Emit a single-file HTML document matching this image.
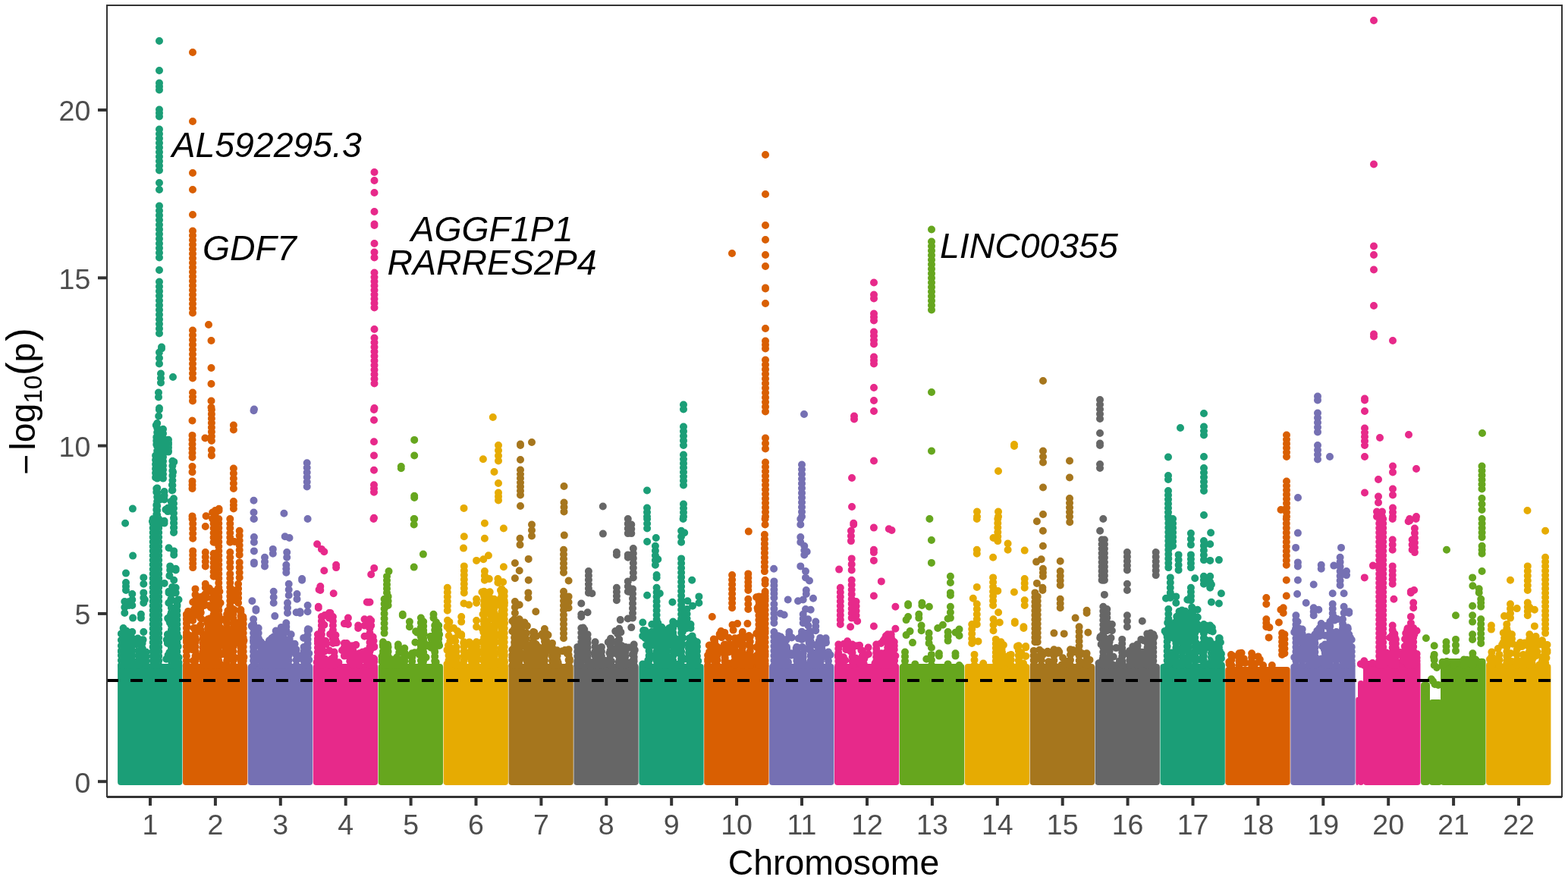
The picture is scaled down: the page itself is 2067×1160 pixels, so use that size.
<!DOCTYPE html><html><head><meta charset="utf-8"><title>Manhattan plot</title><style>html,body{margin:0;padding:0;background:#fff;}svg{display:block;}text{font-family:"Liberation Sans",Arial,sans-serif;}</style></head><body><svg width="2067" height="1160" viewBox="0 0 2067 1160"><rect width="2067" height="1160" fill="#fff"/><g fill="#1B9E77" stroke="#1B9E77"><rect x="155.1" y="875" width="85.3" height="160" rx="4" stroke="none"/><path fill="none" stroke-width="10" stroke-linecap="round" d="M210 54v0M210 93v0M210 109.5v0M210 114v0M210 118.5v0M210 144.5v0M210 149v0M210 153.5v0M210 170.5v0M210 176.5v0M210 182.5v0M210 188.5v0M210 194.5v0M210 200.5v0M210 206.5v0M210 212.5v0M210 218.5v0M210 224.5v0M210 241v0M210 250v0M210 271.5v0M210 277.7v0M210 283.9v0M210 290v0M210 296.2v0M210 302.4v0M210 308.6v0M210 314.8v0M210 321v0M210 327.1v0M210 333.3v0M210 339.5v0M210 356v0M210 371.5v0M210 377.7v0M210 383.9v0M210 390v0M210 396.2v0M210 402.4v0M210 408.6v0M210 414.8v0M210 421v0M210 427.1v0M210 433.3v0M210 439.5v0M213 457.5v0M213 459.5v0M210 464.5v0M210 472v0M210 479.5v0M212 492.5v0M212 498.5v0M212 504.5v0M228 497v0M209 517.5v0M209 523.5v0M210 538v0M165.1 689.8v0M175.1 732.6v0M201.7 684v0M201.7 690v0M201.7 696.1v0M201.7 702.1v0M201.7 708.1v0M201.7 714.2v0M201.7 720.2v0M201.7 726.2v0M201.7 732.2v0M201.7 738.3v0M201.7 744.3v0M201.7 750.3v0M201.7 756.4v0M201.7 762.4v0M201.7 768.4v0M201.7 774.5v0M201.7 780.5v0M201.7 786.5v0M201.7 792.6v0M201.7 798.6v0M201.7 804.6v0M201.7 810.7v0M201.7 816.7v0M201.7 822.7v0M201.7 828.8v0M201.7 834.8v0M201.7 840.8v0M201.7 846.8v0M201.7 852.9v0M201.7 858.9v0M201.7 864.9v0M201.7 871v0M201.7 877v0M209.2 684v0M209.2 690v0M209.2 696.1v0M209.2 702.1v0M209.2 708.1v0M209.2 714.2v0M209.2 720.2v0M209.2 726.2v0M209.2 732.2v0M209.2 738.3v0M209.2 744.3v0M209.2 750.3v0M209.2 756.4v0M209.2 762.4v0M209.2 768.4v0M209.2 774.5v0M209.2 780.5v0M209.2 786.5v0M209.2 792.6v0M209.2 798.6v0M209.2 804.6v0M209.2 810.7v0M209.2 816.7v0M209.2 822.7v0M209.2 828.8v0M209.2 834.8v0M209.2 840.8v0M209.2 846.8v0M209.2 852.9v0M209.2 858.9v0M209.2 864.9v0M209.2 871v0M209.2 877v0M214.2 689v0M200.9 687.3v0M229.2 684v0M229.2 689.8v0M229.2 695.6v0M229.2 701.5v0M222.5 722.3v0M229.2 726.4v0M229.2 731.4v0M224.2 746.4v0M224.2 751.4v0M231.7 749.7v0M231.7 751.4v0M223.4 758.9v0M229.2 764.7v0M222.5 779.7v0M222.5 781.4v0M231.7 774.7v0M231.7 781.4v0M216.7 768.9v0M225.9 801.3v0M225.9 807.2v0M225.9 813v0M225.9 818.8v0M225.9 824.6v0M225.9 830.4v0M225.9 836.3v0M225.9 842.1v0M225.9 847.9v0M225.9 853.7v0M225.9 859.5v0M225.9 865.4v0M225.9 871.2v0M225.9 877v0M233.4 793v0M233.4 799v0M233.4 805v0M233.4 811v0M233.4 817v0M233.4 823v0M233.4 829v0M233.4 835v0M233.4 841v0M233.4 847v0M233.4 853v0M233.4 859v0M233.4 865v0M233.4 871v0M233.4 877v0M220.9 836.3v0M220.9 842.1v0M220.9 847.9v0M166 755.6v0M166 768v0M166 773v0M166 778v0M164.3 793v0M164.3 800.5v0M164.3 808v0M174.3 783v0M174.3 790.5v0M174.3 798v0M170.1 793v0M170.1 798v0M189.3 761.4v0M189.3 769.7v0M189.3 781.4v0M189.3 788v0M189.3 794.7v0M190.9 790.5v0M175.1 814.6v0M185.9 809.7v0M185.9 814.6v0M162.6 828v0M162.6 834.1v0M162.6 840.2v0M162.6 846.4v0M162.6 852.5v0M162.6 858.6v0M162.6 864.7v0M162.6 870.9v0M162.6 877v0M159.9 851.3v0M159.9 857.7v0M159.9 864.1v0M159.9 870.6v0M159.9 877v0M174.3 833v0M174.3 841.3v0M174.3 851.3v0M174.3 857.7v0M174.3 864.1v0M174.3 870.6v0M174.3 877v0M189.3 833v0M187.6 846.3v0M187.6 847.9v0M182.6 857.9v0M182.6 864.3v0M182.6 870.6v0M182.6 877v0M192.6 859.6v0M192.6 865.4v0M192.6 871.2v0M192.6 877v0M169.3 836.3v0M169.3 842.1v0M169.3 847.9v0M169.3 853.7v0M169.3 859.5v0M169.3 865.4v0M169.3 871.2v0M169.3 877v0M209.9 540v0M209.2 548.5v0M205.8 560.6v0M213.6 566.7v0M213.6 568.9v0M206.3 576.4v0M206.3 581.1v0M206.3 585.9v0M205.1 600.6v0M205.1 606.3v0M205.1 612.1v0M205.1 617.9v0M205.1 623.6v0M205.1 629.4v0M211.1 615.1v0M211.1 617.3v0M206.3 644.1v0M206.3 648.8v0M211.1 656.2v0M211.1 658.4v0M206.3 665.9v0M206.3 671.9v0M206.3 678v0M206.3 684v0M222 583.6v0M222 585.9v0M222 594.5v0M222 595.6v0M229.3 608.9v0M228.1 622.2v0M226.9 639.3v0M226.9 646.4v0M225.7 661v0M225.7 667v0M225.7 673v0M218.4 671.8v0M174.9 670.6v0M207.2 558v0M207.2 564.1v0M207.2 570.1v0M207.2 576.2v0M207.2 582.2v0M207.2 588.3v0M207.2 594.3v0M207.2 600.4v0M207.2 606.4v0M207.2 612.5v0M207.2 618.5v0M207.2 624.6v0M207.2 630.6v0M207.2 643.4v0M207.2 649.3v0M207.2 655.2v0M207.2 661v0M207.2 666.9v0M207.2 672.8v0M207.2 678.7v0M207.2 684.6v0M207.2 690.5v0M207.2 696.4v0M207.2 702.3v0M207.2 708.2v0M207.2 714.1v0M207.2 720v0M215 565.8v0M215 571.5v0M215 577.2v0M215 583v0M215 588.7v0M215 596.8v0M215 602.4v0M215 608.1v0M215 613.7v0M215 619.3v0M215 625v0M215 630.6v0M216.6 648v0M216.6 653.3v0M216.6 658.5v0M222 579.7v0M222 584.8v0M222 589.9v0M222 594.9v0M227.4 607.7v0M227.4 614.1v0M227.4 620.5v0M227.4 626.9v0M227.4 633.3v0M227.4 639.7v0M227.4 646.1v0M229 657.3v0M229 663.7v0M229 670.1v0M229 676.5v0M229 682.8v0M229 689.2v0M229 695.6v0M229 702v0M221.2 669.7v0M221.2 674.1v0M216.6 686.8v0M216.6 689.6v0M167 869.9v0M187.9 855.1v0M166.6 843.3v0M178.6 849.2v0M186.4 850.1v0M167.2 851.6v0M169.6 855v0M188.6 843.2v0M173.6 840.6v0M189.3 866.1v0M167.1 843.4v0M166.9 857.3v0M181.7 841.5v0M163.5 859.6v0M180.1 876.3v0M159.9 835.4v0M184.8 868v0M163.8 861.3v0M170.4 842.4v0M159.9 859v0M186.6 851.9v0M184.1 872.6v0M164.6 837v0M159.9 843.7v0M166.8 831.7v0M168.7 869.4v0M185 870.5v0M189.5 859.6v0M166.8 874.9v0M164 840.9v0M235.5 873.2v0M226.2 851.9v0M222.5 862.6v0M221.3 836.9v0M219.7 843.3v0M235.5 790.5v0M221.6 863.5v0M224 820.9v0M231.8 867.3v0M223.2 818.2v0M234.7 852.3v0M225.2 822.5v0M225 810.4v0M235.5 840.2v0M221.2 815.1v0M234.1 791.3v0M227.1 773.9v0M228.7 817.7v0M233.5 797.8v0M227.7 813.7v0M225.4 789.8v0M222.3 794.7v0M223.4 860.1v0M228.6 781.8v0M234 841.1v0M228.7 807.8v0M232.4 815.4v0M235.5 866.6v0M235.5 876.9v0M225.1 792.2v0M229.2 851.6v0M226.5 835.1v0M219.2 868.8v0M226.9 809.3v0"/></g><g fill="#D95F02" stroke="#D95F02"><rect x="241" y="875" width="85.3" height="160" rx="4" stroke="none"/><path fill="none" stroke-width="10" stroke-linecap="round" d="M254 69v0M254 160v0M254 228v0M254 250v0M254 283v0M254 304.5v0M254 310.5v0M254 316.5v0M254 322.5v0M254 328.5v0M254 334.5v0M254 340.5v0M254 346.5v0M254 352.5v0M254 358.5v0M254 364.5v0M254 370.5v0M254 376.5v0M254 382.5v0M254 388.5v0M254 394.5v0M254 400.5v0M254 406.5v0M254 412.5v0M254 435.5v0M254 441.8v0M254 448.1v0M254 454.4v0M254 460.7v0M254 467v0M254 473.3v0M254 479.6v0M254 485.9v0M254 492.2v0M254 498.5v0M254 517.5v0M254 523v0M254 528.5v0M275 428v0M278.5 449v0M278.5 485v0M278.5 506v0M278.5 528.5v0M278.5 537v0M254.2 684v0M254.2 690.4v0M254.2 696.9v0M254.2 703.3v0M254.2 709.8v0M254.2 726.4v0M254.2 731.8v0M254.2 737.3v0M254.2 742.7v0M254.2 748.1v0M270.8 694v0M270.8 728.1v0M270.8 734.2v0M270.8 740.3v0M270.8 746.4v0M270.8 769.7v0M270.8 774.7v0M288.3 684v0M288.3 690v0M288.3 696.1v0M288.3 702.1v0M288.3 708.1v0M288.3 714.2v0M288.3 720.2v0M288.3 726.2v0M288.3 732.2v0M288.3 738.3v0M288.3 744.3v0M288.3 750.3v0M288.3 756.4v0M288.3 762.4v0M288.3 768.4v0M288.3 774.5v0M288.3 780.5v0M288.3 786.5v0M288.3 792.6v0M288.3 798.6v0M288.3 804.6v0M288.3 810.7v0M288.3 816.7v0M288.3 822.7v0M288.3 828.8v0M288.3 834.8v0M288.3 840.8v0M288.3 846.8v0M288.3 852.9v0M288.3 858.9v0M288.3 864.9v0M288.3 871v0M288.3 877v0M281.6 684v0M281.6 690.2v0M281.6 696.3v0M281.6 702.5v0M281.6 708.6v0M281.6 714.8v0M281.6 729.8v0M281.6 735.8v0M281.6 741.8v0M281.6 747.7v0M281.6 753.7v0M281.6 759.7v0M281.6 779.7v0M281.6 785.8v0M281.6 791.9v0M281.6 797.9v0M281.6 804v0M281.6 810.1v0M281.6 816.2v0M281.6 822.3v0M281.6 828.3v0M281.6 834.4v0M281.6 840.5v0M281.6 846.6v0M281.6 852.7v0M281.6 858.8v0M281.6 864.8v0M281.6 870.9v0M281.6 877v0M303.3 684v0M303.3 690.2v0M303.3 696.3v0M303.3 702.5v0M303.3 708.6v0M303.3 714.8v0M303.3 728.1v0M303.3 734.8v0M303.3 741.4v0M303.3 748.1v0M303.3 756.4v0M303.3 762.3v0M303.3 768.3v0M303.3 774.2v0M303.3 780.2v0M303.3 786.1v0M303.3 792.1v0M303.3 798v0M315.7 699.8v0M315.7 706.1v0M315.7 712.5v0M315.7 718.8v0M315.7 725.1v0M315.7 731.4v0M315.7 741.4v0M315.7 748.1v0M315.7 754.7v0M315.7 761.4v0M314.1 769.7v0M314.1 776v0M314.1 782.2v0M314.1 788.4v0M314.1 794.7v0M317.4 806.3v0M317.4 812.2v0M317.4 818.1v0M317.4 824v0M317.4 829.9v0M317.4 835.8v0M317.4 841.7v0M317.4 847.6v0M317.4 853.4v0M317.4 859.3v0M317.4 865.2v0M317.4 871.1v0M317.4 877v0M309.1 714v0M307.4 778v0M307.4 784.7v0M307.4 791.3v0M257.5 776.4v0M257.5 783.9v0M257.5 791.3v0M254.2 793.8v0M269.1 784.7v0M269.1 788v0M264.2 796.3v0M264.2 798v0M245.9 809.7v0M245.9 815.8v0M245.9 821.9v0M245.9 828v0M245.9 834.1v0M245.9 840.3v0M245.9 846.4v0M245.9 852.5v0M245.9 858.6v0M245.9 864.8v0M245.9 870.9v0M245.9 877v0M254.2 813v0M254.2 818v0M257.5 828v0M257.5 834.1v0M257.5 840.2v0M257.5 846.4v0M257.5 852.5v0M257.5 858.6v0M257.5 864.7v0M257.5 870.9v0M257.5 877v0M264.2 803v0M264.2 808.8v0M264.2 814.6v0M267.5 836.3v0M267.5 842.1v0M267.5 847.9v0M267.5 853.7v0M267.5 859.5v0M267.5 865.4v0M267.5 871.2v0M267.5 877v0M274.1 816.3v0M274.1 822.4v0M274.1 828.4v0M274.1 834.5v0M274.1 840.6v0M274.1 846.7v0M274.1 852.7v0M274.1 858.8v0M274.1 864.9v0M274.1 870.9v0M274.1 877v0M299.1 809.7v0M299.1 815.8v0M299.1 821.9v0M299.1 828v0M299.1 834.1v0M299.1 840.3v0M299.1 846.4v0M299.1 852.5v0M299.1 858.6v0M299.1 864.8v0M299.1 870.9v0M299.1 877v0M307.4 803v0M307.4 809.2v0M307.4 815.3v0M307.4 821.5v0M307.4 827.7v0M307.4 833.8v0M307.4 840v0M307.4 846.2v0M307.4 852.3v0M307.4 858.5v0M307.4 864.7v0M307.4 870.8v0M307.4 877v0M320.7 816.3v0M320.7 822.4v0M320.7 828.4v0M320.7 834.5v0M320.7 840.6v0M320.7 846.7v0M320.7 852.7v0M320.7 858.8v0M320.7 864.9v0M320.7 870.9v0M320.7 877v0M292.4 841.3v0M292.4 847.9v0M253.5 554.5v0M253.5 573.9v0M253.5 579.7v0M253.5 585.5v0M253.5 591.3v0M253.5 597v0M253.5 602.8v0M253.5 615.1v0M253.5 622.2v0M253.5 634.4v0M253.5 639.2v0M253.5 643.9v0M253.5 680.4v0M253.5 684v0M278.9 540v0M278.9 545.9v0M278.9 551.7v0M278.9 557.6v0M278.9 563.5v0M278.9 569.3v0M278.9 575.2v0M278.9 581v0M270.4 577.5v0M278.9 593.3v0M278.9 600.4v0M307.9 560.6v0M307.9 566.5v0M307.9 617.5v0M307.9 624.1v0M307.9 630.7v0M307.9 637.3v0M307.9 643.9v0M307.9 661v0M307.9 665.8v0M307.9 670.5v0M271.6 680.3v0M283.7 673.1v0M283.7 678.6v0M283.7 684v0M288.6 670.7v0M288.6 673v0M280.1 675.5v0M280.1 684v0M321.4 844.5v0M292.4 862.2v0M264.4 830.4v0M249.7 841.6v0M306.6 865.1v0M261.5 807.1v0M321.4 866.1v0M306.8 831.7v0M280.5 790v0M300.3 846.4v0M245.9 837.4v0M287.4 775.8v0M289.4 819v0M321.4 866.4v0M297.6 855.2v0M265.4 815.8v0M252.6 807.3v0M245.9 876.2v0M304.1 857.4v0M317.8 864.6v0M275.9 775.5v0M272.7 776v0M253.6 855v0M276.2 815.5v0M283.2 847.7v0M273.1 820.4v0M272.5 787.8v0M270.4 783.2v0M273.9 876.5v0M277.8 800.6v0M292.9 835.1v0M272.7 862v0M315.9 847.6v0M289.4 779.7v0M317.4 820.8v0M245.9 844v0M274.2 838v0M293.9 838.1v0M295.8 860.9v0M245.9 838.1v0M286.3 862.3v0M264.8 864.5v0M245.9 811.1v0M258.1 844v0M255.6 827.9v0M280.5 858.1v0M269.7 796.2v0M306.4 813.1v0M264.2 824.2v0M248.1 805.9v0M288.9 817.2v0M316.7 844v0M275.7 798.3v0M276.6 779.2v0M246.5 826.6v0M272.8 876.1v0M268.6 867.6v0M269.9 836v0M315.6 866.7v0M320.4 813v0M318 865.3v0M282.3 841.8v0M250.7 852v0M255 870.9v0M290.5 875.8v0M261 832.1v0M309 804v0M293.2 862.1v0M264.8 807.5v0M304.7 857.6v0M249.6 837.7v0M290.6 794.8v0M253.7 845.1v0M284.7 826.7v0M256 803.1v0M258 810.9v0M298.4 861.3v0M269.7 798v0M298.5 819.2v0M291.3 850.4v0M288 788v0M304.9 840.2v0M265.2 786.7v0M304.6 836.9v0M310.6 830v0M292.3 816.5v0M252.6 855.9v0M320 846.5v0M288.4 787v0M262.7 793.5v0M250.1 838.1v0M271.8 839.2v0M290.9 827.8v0M245.9 816.5v0M286.9 807.5v0M279 841.6v0M310.7 839.1v0M311.9 840.6v0M278.8 875.7v0M300.4 805.1v0M317.4 803.7v0M281.6 781.6v0M279 853v0M300.5 864.3v0M261.3 865.1v0M275.4 820.7v0M316.9 849.8v0M264.6 832.7v0M311.8 821v0M298 859.9v0M321.4 844.1v0M275.2 834.1v0M276.1 842.4v0M284.6 844.6v0M257.1 795.6v0"/></g><g fill="#7570B3" stroke="#7570B3"><rect x="326.9" y="875" width="85.3" height="160" rx="4" stroke="none"/><path fill="none" stroke-width="10" stroke-linecap="round" d="M335 539.5v0M334.9 684v0M334.9 708.1v0M334.9 714.8v0M334.9 726.4v0M334.9 741.4v0M334.9 743.1v0M349 734.8v0M349 740.6v0M349 746.4v0M359.8 723.9v0M359.8 729.8v0M375.7 707.3v0M381.5 709v0M378.2 728.1v0M378.2 734.8v0M377.3 744.7v0M377.3 749.7v0M377.3 754.7v0M380.7 769.7v0M380.7 777.2v0M380.7 784.7v0M379 794.7v0M379 801.3v0M379 808v0M398.1 763.1v0M398.1 764.7v0M391.5 783v0M391.5 789.7v0M360.7 779.7v0M360.7 787.2v0M360.7 794.7v0M405.6 684v0M332.4 792.2v0M337.4 803v0M337.4 804.7v0M395.6 806.3v0M395.6 808v0M405.6 798v0M405.6 806.3v0M390.6 807.2v0M362.3 812.1v0M334.1 816.3v0M334.1 822.4v0M334.1 828.4v0M334.1 834.5v0M334.1 840.6v0M334.1 846.7v0M334.1 852.7v0M334.1 858.8v0M334.1 864.9v0M334.1 870.9v0M334.1 877v0M340.7 828v0M340.7 834.6v0M340.7 841.3v0M340.7 847.9v0M377.3 821.3v0M377.3 826.3v0M377.3 831.3v0M374 836.3v0M374 842.1v0M374 847.9v0M374 853.7v0M374 859.5v0M374 865.4v0M374 871.2v0M374 877v0M380.7 844.6v0M380.7 851.1v0M380.7 857.6v0M380.7 864v0M380.7 870.5v0M380.7 877v0M360.7 839.6v0M360.7 845.8v0M360.7 852.1v0M360.7 858.3v0M360.7 864.5v0M360.7 870.8v0M360.7 877v0M405.6 831.3v0M405.6 837v0M405.6 842.7v0M405.6 848.4v0M405.6 854.1v0M405.6 859.9v0M405.6 865.6v0M405.6 871.3v0M405.6 877v0M400.6 852.9v0M400.6 858.9v0M400.6 865v0M400.6 871v0M400.6 877v0M350.7 849.6v0M350.7 855.1v0M350.7 860.6v0M350.7 866v0M350.7 871.5v0M350.7 877v0M344 846.3v0M344 852.4v0M344 858.6v0M344 864.7v0M344 870.9v0M344 877v0M367.3 846.3v0M367.3 852.4v0M367.3 858.6v0M367.3 864.7v0M367.3 870.9v0M367.3 877v0M390.6 856.3v0M390.6 863.2v0M390.6 870.1v0M390.6 877v0M334.5 541.2v0M334.5 659.7v0M334.5 675.5v0M334.5 684v0M404.7 610.2v0M404.7 616.5v0M404.7 622.7v0M404.7 629v0M404.7 635.3v0M404.7 641.5v0M374.4 676.7v0M356.8 844.6v0M363.7 831.6v0M388.6 848.7v0M396.3 865.8v0M369.9 835.8v0M331.8 825.6v0M379.5 844.2v0M375.8 826v0M400.2 840.9v0M335.1 874.6v0M354.3 874.5v0M339.7 844.9v0M348.3 861.7v0M358.2 841.2v0M366.6 859.9v0M355.1 865.6v0M357.7 845.2v0M367.9 840v0M334.9 827.3v0M393 864.1v0M391.8 869.2v0M356.6 849.4v0M402.2 876.5v0M369.8 872.2v0M354.1 856.6v0M338.8 865.8v0M404.9 865.1v0M345.5 860.7v0M381.8 861.3v0M407.2 869.9v0M334.2 842.2v0M342.6 860.2v0M339.9 839.8v0M341.5 843v0M353.8 849.9v0M383.7 836.3v0M338.6 832.6v0M339.3 828.6v0M354.7 858.8v0M375.9 843.3v0M407.3 861.2v0M405.9 829.3v0M366.4 864v0M407.3 829.9v0M337.9 836.2v0M331.8 824.7v0M365.6 874.2v0M390.4 856v0M392 866.7v0M372.9 866v0M404.8 873.1v0M338.8 850.9v0M364.1 850.9v0M370.8 826.9v0M334 844.8v0M354 854.9v0M362.7 851.3v0M351.8 864.6v0M334.4 854.5v0M389.5 858.3v0M384.7 856.5v0M381.7 842.5v0M374.8 857.3v0M370 847.3v0M354.6 876.1v0M355 844.2v0"/></g><g fill="#E7298A" stroke="#E7298A"><rect x="412.8" y="875" width="85.3" height="160" rx="4" stroke="none"/><path fill="none" stroke-width="10" stroke-linecap="round" d="M493.5 227v0M493.5 238v0M493.5 254v0M493.5 279v0M493.5 295.5v0M493.5 297v0M493.5 321v0M493.5 332.5v0M493.5 339.5v0M493.5 359.5v0M493.5 365.2v0M493.5 371v0M493.5 376.8v0M493.5 382.5v0M493.5 388.2v0M493.5 394v0M493.5 399.8v0M493.5 405.5v0M493.5 434v0M493.5 445.5v0M493.5 451.5v0M493.5 457.5v0M493.5 463.5v0M493.5 469.5v0M493.5 475.5v0M493.5 481.5v0M493.5 487.5v0M493.5 493.5v0M493.5 499.5v0M493.5 505.5v0M493.5 538v0M418.1 717.3v0M423.9 723.9v0M427.3 727.3v0M427.3 752.2v0M443.1 744.7v0M443.1 748.1v0M422.3 773v0M422.3 778v0M420.6 777.2v0M439.7 782.2v0M419.8 799.7v0M419.8 801.3v0M483.8 793.8v0M423.9 813v0M423.9 818.8v0M423.9 824.6v0M423.9 830.4v0M423.9 836.3v0M423.9 842.1v0M423.9 847.9v0M423.9 853.7v0M423.9 859.5v0M423.9 865.4v0M423.9 871.2v0M423.9 877v0M418.9 836.3v0M418.9 842.1v0M418.9 847.9v0M418.9 853.7v0M418.9 859.5v0M418.9 865.4v0M418.9 871.2v0M418.9 877v0M433.9 808v0M433.9 814.6v0M438.9 813v0M438.9 818.8v0M438.9 824.6v0M438.9 830.5v0M438.9 836.3v0M438.9 842.1v0M438.9 847.9v0M458.9 814.6v0M458.9 823v0M453.9 822.1v0M480.5 816.3v0M480.5 824.6v0M472.2 824.6v0M472.2 828v0M480.5 838.8v0M465.5 851.3v0M465.5 857.7v0M465.5 864.1v0M465.5 870.6v0M465.5 877v0M453.9 847.9v0M453.9 853.5v0M453.9 859v0M453.9 864.6v0M473.8 861.2v0M473.8 866.5v0M473.8 871.7v0M473.8 877v0M443.9 847.1v0M440.6 859.6v0M440.6 865.4v0M440.6 871.2v0M440.6 877v0M492.5 684v0M493.2 748.9v0M489.2 757.2v0M487.5 793.8v0M489.2 818v0M489.2 824.6v0M491.7 839.6v0M491.7 846.3v0M491.7 852.9v0M492.5 867.9v0M492.5 872.5v0M492.5 877v0M487.5 816.3v0M487.5 822.4v0M487.5 828.4v0M487.5 834.5v0M487.5 840.6v0M487.5 846.7v0M487.5 852.7v0M487.5 858.8v0M487.5 864.9v0M487.5 870.9v0M487.5 877v0M493 540v0M493 553.8v0M493 582.3v0M493 600.5v0M493 619.8v0M493 639.3v0M493 644v0M493 648.8v0M493 682.7v0M482.7 858v0M427.4 859v0M469.9 864.9v0M427.4 823.7v0M469.3 850.1v0M478.1 860.2v0M457.1 848v0M466.5 869.2v0M424.4 869.3v0M426.2 846.6v0M436.2 875.9v0M438.7 841.3v0M423 835.8v0M418.7 867.1v0M425.6 844.3v0M477.5 868.1v0M479 869.6v0M430.1 848.9v0M442.3 843.5v0M462.6 860.7v0M420.3 845.5v0M442.5 837.3v0M483 871.6v0M429.3 845.1v0M460 855.3v0M418.9 844.9v0M464.3 853.8v0M422.6 840.7v0M461.6 851.3v0M461.2 871.5v0M437.1 868.6v0M434.8 873.8v0M435.4 807.9v0M440.5 866.5v0M435.1 836v0M451 857.2v0M446.4 873.3v0M417.7 872.9v0M434.2 857.5v0M484.1 867.6v0M428.6 868.8v0M424.1 853v0M420.1 845.1v0M424.1 876.2v0M424.7 821.3v0M478.1 859.4v0M459.6 864.7v0M444.2 873.3v0M460.9 854.8v0M432.6 876.4v0M428 811.1v0M460 865.2v0M426.8 872.1v0M492.5 844.8v0M488.8 855.8v0M493.2 852.9v0M493.2 872.2v0M490.4 873.8v0M493.2 868.5v0M487.9 846.9v0M493.2 852.1v0"/></g><g fill="#66A61E" stroke="#66A61E"><rect x="498.7" y="875" width="85.3" height="160" rx="4" stroke="none"/><path fill="none" stroke-width="10" stroke-linecap="round" d="M545.7 684v0M545.7 691.5v0M557.9 730.6v0M545.7 747.6v0M512.5 753.1v0M510 759.7v0M510 765.1v0M510 770.5v0M510 775.9v0M510 781.4v0M506.6 789.7v0M506.6 796.1v0M506.6 802.5v0M506.6 808.9v0M506.6 815.4v0M506.6 821.8v0M506.6 828.2v0M506.6 834.6v0M511.6 786.4v0M511.6 792.2v0M511.6 798v0M505 846.3v0M505 852.4v0M505 858.6v0M505 864.7v0M505 870.9v0M505 877v0M511.6 852.9v0M511.6 858.9v0M511.6 865v0M511.6 871v0M511.6 877v0M530.8 809.7v0M530.8 811.3v0M539.9 819.6v0M539.9 826.3v0M524.9 849.6v0M524.9 852.9v0M533.3 854.6v0M533.3 860.2v0M533.3 865.8v0M533.3 871.4v0M533.3 877v0M554.9 814.6v0M554.9 820.9v0M554.9 827.1v0M554.9 833.4v0M554.9 839.6v0M554.9 845.8v0M554.9 852.1v0M554.9 858.3v0M554.9 864.5v0M554.9 870.8v0M554.9 877v0M558.2 819.6v0M558.2 825.4v0M558.2 831.1v0M558.2 836.8v0M558.2 842.6v0M558.2 848.3v0M558.2 854.1v0M558.2 859.8v0M558.2 865.5v0M558.2 871.3v0M558.2 877v0M571.5 809.7v0M571.5 814.6v0M573.2 824.6v0M573.2 830.5v0M573.2 836.3v0M573.2 842.1v0M573.2 847.9v0M573.2 853.7v0M573.2 859.5v0M573.2 865.4v0M573.2 871.2v0M573.2 877v0M578.2 824.6v0M578.2 830.5v0M578.2 836.3v0M578.2 842.1v0M578.2 847.9v0M564.9 850.4v0M543.2 861.2v0M543.2 866.5v0M543.2 871.7v0M543.2 877v0M523.3 866.2v0M523.3 871.6v0M523.3 877v0M516.6 869.6v0M516.6 877v0M546.2 579.9v0M546.2 600.5v0M528.8 615.1v0M528.8 617.3v0M546.2 653.8v0M546.2 656v0M546.2 684v0M573.2 851.6v0M568.2 853.7v0M574.9 831.1v0M571.9 839v0M510.4 858v0M571.7 849.7v0M532.3 867.9v0M574.7 872.7v0M574.5 876.2v0M575.9 838.3v0M548.1 832.2v0M526.2 860.1v0M547.4 846.7v0M503.6 872.3v0M505 861.4v0M525.6 876.2v0M570.1 845.9v0M558.9 867.3v0M554.9 859.3v0M561.6 866.6v0M511.1 849.8v0M529.2 870.9v0M559.2 847.3v0M536.3 864.3v0M579.1 836.4v0M555.8 842.1v0M576.4 833.7v0M556.9 854.4v0M504.8 850.1v0M563.6 851.2v0M568.8 842.6v0M532.9 869.2v0M576.4 829.3v0M575 820.3v0M558.6 835.6v0M574.9 833v0M567.5 838.9v0M503.6 870.2v0M559.6 851.2v0M554 857.1v0M552.8 863v0M577.1 850.6v0M549.7 833.7v0M524.2 873.9v0M503.6 865.4v0M557.6 829v0M573.1 858.6v0M546.7 860.3v0M576.5 825.8v0M579.1 851v0M553.3 862.1v0M505 846.3v0"/></g><g fill="#E6AB02" stroke="#E6AB02"><rect x="584.6" y="875" width="85.3" height="160" rx="4" stroke="none"/><path fill="none" stroke-width="10" stroke-linecap="round" d="M649.8 550v0M657 587v0M657 593.8v0M657 600.7v0M657 607.5v0M651.5 622v0M657 637v0M657 649.5v0M657 654.5v0M657 659.5v0M638.9 689.8v0M663.9 696.5v0M611.8 707.3v0M638.9 709.8v0M611 722.6v0M628.1 738.9v0M637.3 737.3v0M643.9 732.3v0M663.9 747.2v0M611.8 746.4v0M611.8 752.2v0M611.8 758.1v0M611.8 763.9v0M611.8 769.7v0M611.8 775.5v0M611.8 781.4v0M589.8 774.7v0M589.8 780.7v0M589.8 786.7v0M589.8 792.7v0M589.8 798.7v0M589.8 804.7v0M638.9 753.1v0M638.9 758.9v0M638.9 764.7v0M644.8 763.1v0M656.4 763.1v0M656.4 768v0M663.1 767.2v0M611.5 795.5v0M618.1 797.2v0M628.1 789.7v0M628.1 794.7v0M638.1 779.7v0M638.1 785.8v0M638.1 791.9v0M638.1 797.9v0M638.1 804v0M638.1 810.1v0M638.1 816.2v0M638.1 822.3v0M638.1 828.3v0M638.1 834.4v0M638.1 840.5v0M638.1 846.6v0M638.1 852.7v0M638.1 858.8v0M638.1 864.8v0M638.1 870.9v0M638.1 877v0M644.8 786.4v0M644.8 792.5v0M644.8 798.6v0M644.8 804.7v0M651.4 789.7v0M651.4 795.8v0M651.4 801.9v0M651.4 808v0M661.4 776.4v0M661.4 782.3v0M661.4 788.2v0M661.4 794.1v0M661.4 800v0M661.4 806v0M661.4 811.9v0M661.4 817.8v0M661.4 823.7v0M661.4 829.6v0M661.4 835.6v0M661.4 841.5v0M661.4 847.4v0M661.4 853.3v0M661.4 859.2v0M661.4 865.2v0M661.4 871.1v0M661.4 877v0M664.7 779.7v0M664.7 785.8v0M664.7 791.9v0M664.7 797.9v0M664.7 804v0M664.7 810.1v0M664.7 816.2v0M664.7 822.3v0M664.7 828.3v0M664.7 834.4v0M664.7 840.5v0M664.7 846.6v0M664.7 852.7v0M664.7 858.8v0M664.7 864.8v0M664.7 870.9v0M664.7 877v0M651.4 824.6v0M651.4 830.5v0M651.4 836.3v0M651.4 842.1v0M651.4 847.9v0M651.4 853.7v0M651.4 859.5v0M651.4 865.4v0M651.4 871.2v0M651.4 877v0M644.8 833v0M644.8 839.2v0M644.8 845.5v0M644.8 851.8v0M644.8 858.1v0M644.8 864.4v0M644.8 870.7v0M644.8 877v0M608.2 813v0M608.2 819.6v0M591.5 819.6v0M591.5 828v0M598.2 828v0M608.2 836.3v0M608.2 837.9v0M628.1 818v0M628.1 826.3v0M591.5 851.3v0M591.5 857.7v0M591.5 864.1v0M591.5 870.6v0M591.5 877v0M601.5 852.9v0M601.5 858.9v0M601.5 865v0M601.5 871v0M601.5 877v0M611.5 846.3v0M611.5 852.4v0M611.5 858.6v0M611.5 864.7v0M611.5 870.9v0M611.5 877v0M628.1 846.3v0M628.1 852.4v0M628.1 858.6v0M628.1 864.7v0M628.1 870.9v0M628.1 877v0M621.5 852.9v0M621.5 858.9v0M621.5 865v0M621.5 871v0M621.5 877v0M636.9 605.3v0M611.5 669.9v0M599.3 841.6v0M636.1 869.8v0M643 795.1v0M659 860.4v0M611.2 847.4v0M656.8 796.8v0M593.6 855.7v0M642.4 839.9v0M651 839.7v0M646.5 870.2v0M655.1 872.1v0M638.8 859.2v0M635.6 846.1v0M647.4 835.9v0M642.6 819.8v0M637.6 808.7v0M665 821.3v0M603.1 832v0M593.9 844.4v0M602 865.5v0M654.8 816.8v0M651.7 817.8v0M658.5 824.4v0M637.3 833.3v0M594.5 873.8v0M647.4 826.1v0M662.2 857.4v0M647.8 850.7v0M623.1 859.7v0M660.5 870.8v0M664.1 783.7v0M662.5 835.2v0M591.7 838.1v0M593.3 845.2v0M642.3 781.6v0M595.2 875.3v0M664 828.2v0M658.2 791.3v0M644.5 873.5v0M641.8 821.7v0M651.8 817.9v0M600.3 845.3v0M625.9 853v0M592.4 819.9v0M602.5 866.6v0M624.3 853.5v0M660 778.1v0M665 794.5v0M642.1 849.4v0M637.5 782.8v0M623.3 858.7v0M655.3 836.9v0M635.4 780.5v0M600.8 865.9v0M604.5 836.3v0M665 872.8v0M619.9 850.2v0M596.9 866.4v0M618.6 846.4v0M645.7 780.3v0M664.4 784.7v0M616.4 860.6v0M647.2 811.9v0M591 850.8v0M636.5 809.7v0M589.5 875.4v0M614.5 865.7v0M661.6 791.7v0M589.5 856.9v0M594 862.2v0M664.8 797.7v0M589.5 826.1v0M590 817.8v0M659.3 835.7v0M656 793.6v0M635.9 829v0M657.3 812.4v0M637.9 819v0M657.4 795.6v0M658 792.4v0M606.2 876.7v0M655.4 818.1v0M642.3 824.6v0M646.8 845.6v0M646.3 864v0M661.1 847.2v0M638 785.2v0M643.4 806.2v0M653.5 846.5v0M641 795.2v0M660.4 788.1v0M592.1 851.5v0M660.3 854.8v0M664.8 863.6v0M632 859.2v0M593.8 866.4v0M592.2 829.5v0"/></g><g fill="#A6761D" stroke="#A6761D"><rect x="670.5" y="875" width="85.3" height="160" rx="4" stroke="none"/><path fill="none" stroke-width="10" stroke-linecap="round" d="M686 585.5v0M686 587v0M701 583v0M686 606v0M686 619.5v0M686 625v0M686 630.5v0M686 636v0M686 641.5v0M686 647v0M686 652.5v0M686 667v0M743.5 641v0M743.5 662.5v0M743.5 668.5v0M743.5 674.5v0M701 691.5v0M701 699v0M701 706.5v0M685.5 709.8v0M685.5 718.1v0M743.8 705.6v0M743 724.8v0M743 730.8v0M743 736.8v0M743 742.7v0M743 748.7v0M743 754.7v0M749.6 765.5v0M696.7 736.9v0M678.9 742.2v0M684.7 752.2v0M678.9 762.2v0M696.7 764.7v0M696.4 781.4v0M696.4 788v0M743 779.7v0M743 785.9v0M743 792v0M743 798.2v0M743 804.3v0M743 810.5v0M743 816.6v0M743 822.8v0M743 829v0M743 835.1v0M743 841.3v0M749.6 786.4v0M749.6 793.8v0M749.6 801.3v0M678.9 793v0M678.9 800.5v0M678.9 808v0M684.7 797.2v0M706.3 806.3v0M684.7 816.3v0M684.7 822.4v0M684.7 828.4v0M684.7 834.5v0M684.7 840.6v0M684.7 846.7v0M684.7 852.7v0M684.7 858.8v0M684.7 864.9v0M684.7 870.9v0M684.7 877v0M678.1 816.3v0M678.1 822.4v0M678.1 828.4v0M678.1 834.5v0M678.1 840.6v0M678.1 846.7v0M678.1 852.7v0M678.1 858.8v0M678.1 864.9v0M678.1 870.9v0M678.1 877v0M691.4 820.5v0M703 833v0M703 839.2v0M703 845.5v0M703 851.8v0M703 858.1v0M703 864.4v0M703 870.7v0M703 877v0M718 833v0M718 839.2v0M718 845.5v0M718 851.8v0M718 858.1v0M718 864.4v0M718 870.7v0M718 877v0M728 847.9v0M728 853.7v0M728 859.6v0M728 865.4v0M728 871.2v0M728 877v0M675.4 856.3v0M675.4 863.2v0M675.4 870.1v0M675.4 877v0M694.7 849.6v0M694.7 855.1v0M694.7 860.6v0M694.7 866v0M694.7 871.5v0M694.7 877v0M709.7 852.9v0M709.7 858.9v0M709.7 865v0M709.7 871v0M709.7 877v0M734.6 857.9v0M734.6 864.3v0M734.6 870.6v0M734.6 877v0M749.6 856.3v0M749.6 863.2v0M749.6 870.1v0M749.6 877v0M687.3 831.4v0M697.3 865v0M719 848.6v0M677 876.2v0M734.3 857.2v0M675.4 866.5v0M748.8 859.5v0M675.4 818.7v0M713.2 857.5v0M716.6 869v0M705.1 859v0M681.9 817.2v0M716.6 868.2v0M692.4 823.5v0M741.4 858.2v0M750.9 868.7v0M718.8 840.3v0M730.1 874.1v0M744.6 857v0M720.2 835.4v0M693.8 842.5v0M692.8 848.1v0M735.6 873.3v0M750.9 871.5v0M675.4 856.6v0M685.8 843.9v0M702.1 864.4v0M721.6 847.5v0M722.5 837.1v0M736 858.9v0M708.5 862.6v0M716.9 861.6v0M686.4 820.1v0M717.9 829v0M694 834.6v0M704.3 833.5v0M720.1 844.5v0M707.1 838.6v0M718.8 861.8v0M678.7 845v0M689.9 851.7v0M712.9 876.1v0M678.8 837.7v0M721 856.9v0M710.7 875.1v0M714.6 835.8v0M688.6 836.1v0M718.3 839.7v0M681.5 836.7v0M715.7 854.3v0M694.9 825.1v0M704.1 858.7v0M689.6 865.9v0M720.1 851v0M716.6 839.8v0M676.7 859.4v0M687.9 861.7v0M678.4 850.2v0M706.7 849.3v0M747.9 861.8v0M675.4 832.2v0M736.3 876.7v0"/></g><g fill="#666666" stroke="#666666"><rect x="756.4" y="875" width="85.3" height="160" rx="4" stroke="none"/><path fill="none" stroke-width="10" stroke-linecap="round" d="M794.8 667.5v0M794.9 703.6v0M812.9 728.1v0M812.9 731.4v0M775.9 753.1v0M775.9 758.7v0M775.9 764.4v0M775.9 770v0M775.9 775.7v0M775.9 781.4v0M780.4 782.2v0M812.9 774.7v0M812.9 780.3v0M812.9 785.8v0M812.9 791.3v0M766.3 795.5v0M766.3 809.7v0M766.3 813v0M774.6 807.2v0M817.8 817.1v0M766.3 828v0M766.3 834.1v0M766.3 840.2v0M766.3 846.4v0M766.3 852.5v0M766.3 858.6v0M766.3 864.7v0M766.3 870.9v0M766.3 877v0M774.6 836.3v0M774.6 842.1v0M774.6 847.9v0M774.6 853.7v0M774.6 859.5v0M774.6 865.4v0M774.6 871.2v0M774.6 877v0M784.6 846.3v0M784.6 852.4v0M784.6 858.6v0M784.6 864.7v0M784.6 870.9v0M784.6 877v0M792.9 852.9v0M792.9 858.9v0M792.9 865v0M792.9 871v0M792.9 877v0M816.2 828.8v0M811.2 832.1v0M804.5 844.6v0M804.5 851.1v0M804.5 857.6v0M804.5 864v0M804.5 870.5v0M804.5 877v0M816.2 842.9v0M816.2 848.6v0M816.2 854.3v0M816.2 860v0M816.2 865.6v0M816.2 871.3v0M816.2 877v0M824.5 852.9v0M824.5 858.9v0M824.5 865v0M824.5 871v0M824.5 877v0M827.8 684v0M827.8 690.4v0M827.8 696.8v0M827.8 703.1v0M827.8 731.4v0M827.8 734.8v0M827.8 766.4v0M827.8 773v0M827.8 779.7v0M827.8 815.5v0M761.3 852.9v0M761.3 858.9v0M761.3 865v0M761.3 871v0M761.3 877v0M832.3 691.5v0M832.3 697.3v0M832.3 703.1v0M834.8 723.1v0M834.8 729.5v0M834.8 735.9v0M834.8 742.2v0M834.8 748.6v0M834.8 755v0M834.8 761.4v0M834 776.4v0M834 782.7v0M834 789.1v0M834 795.5v0M834 801.9v0M834 808.3v0M834 814.6v0M832.3 827.1v0M835.7 849.6v0M835.7 855.1v0M835.7 860.6v0M835.7 866v0M835.7 871.5v0M835.7 877v0M761.3 872.3v0M762.8 861.9v0M824.2 860v0M806 871.7v0M777.3 872.8v0M803.4 860.7v0M801.7 846.5v0M822.9 861.8v0M814.3 862.9v0M768.9 854.4v0M807.2 855.1v0M790.9 866v0M772.4 861.7v0M782.4 876.1v0M822.8 871.6v0M770.3 829.8v0M819.8 851.3v0M805.8 872.3v0M805 841.8v0M768.8 852.7v0M792.8 868.9v0M790.5 857.5v0M814.1 835.5v0M783.7 861.5v0M761.3 876.7v0M818.7 861.1v0M808.1 861.1v0M798.6 871.1v0M762.5 863.4v0M761.3 872.2v0M814.6 849.4v0M787.6 876v0M815.1 854.7v0M768.8 827.5v0M813.2 845.8v0M818.4 833.4v0M761.3 874.2v0M787.3 872.5v0M786.6 871.3v0M788 873.4v0M815.8 872.9v0M805.4 844.2v0M808.7 856.1v0M787.9 862.1v0M806.8 846.5v0M795.8 875.5v0M835.5 869v0M834.7 870.4v0M832.3 872.8v0M836.8 856.9v0M833.9 862.8v0M829.5 853.6v0"/></g><g fill="#1B9E77" stroke="#1B9E77"><rect x="842.3" y="875" width="85.3" height="160" rx="4" stroke="none"/><path fill="none" stroke-width="10" stroke-linecap="round" d="M853 646.5v0M853 669.5v0M853 675.2v0M853 681v0M901 533.5v0M901 539.5v0M901 562.5v0M901 568.6v0M901 574.8v0M901 580.9v0M901 587v0M901 599.5v0M901 605.2v0M901 610.9v0M901 616.6v0M901 622.4v0M901 628.1v0M901 633.8v0M901 639.5v0M901 664.5v0M901 670v0M901 675.5v0M901 681v0M853.1 684v0M853.1 690.2v0M853.1 696.5v0M900.6 684v0M853.1 714v0M864.8 709v0M898.1 699.8v0M898.1 707.3v0M898.1 714.8v0M902.2 702.3v0M863.9 719.8v0M863.9 726v0M863.9 732.3v0M863.9 738.5v0M863.9 744.7v0M867.3 737.3v0M865.6 758.1v0M865.6 761.4v0M912.2 764.7v0M898.1 736.4v0M898.1 742.5v0M898.1 748.7v0M898.1 754.8v0M898.1 760.9v0M898.1 767v0M898.1 773.1v0M898.1 779.2v0M898.1 785.3v0M898.1 791.4v0M898.1 797.5v0M898.1 803.7v0M898.1 809.8v0M898.1 815.9v0M898.1 822v0M898.1 828.1v0M898.1 834.2v0M898.1 840.3v0M898.1 846.4v0M898.1 852.6v0M898.1 858.7v0M898.1 864.8v0M898.1 870.9v0M898.1 877v0M865.6 774.7v0M865.6 780.7v0M865.6 786.7v0M865.6 792.8v0M865.6 798.8v0M865.6 804.8v0M865.6 810.8v0M865.6 816.8v0M865.6 822.8v0M865.6 828.9v0M865.6 834.9v0M865.6 840.9v0M865.6 846.9v0M865.6 852.9v0M865.6 858.9v0M865.6 865v0M865.6 871v0M865.6 877v0M869.8 782.2v0M853.1 784.7v0M886.4 793.8v0M906.4 792.2v0M921.4 786.4v0M921.4 794.7v0M913 798.8v0M905.6 803v0M905.6 809.2v0M905.6 815.5v0M905.6 821.7v0M905.6 828v0M910.5 823v0M910.5 828v0M847.3 820.5v0M850.6 831.3v0M850.6 836.3v0M850.6 841.3v0M887.2 819.6v0M872.3 828v0M872.3 834.1v0M872.3 840.2v0M872.3 846.4v0M872.3 852.5v0M872.3 858.6v0M872.3 864.7v0M872.3 870.9v0M872.3 877v0M878.9 833v0M878.9 839.2v0M878.9 845.5v0M878.9 851.8v0M878.9 858.1v0M878.9 864.4v0M878.9 870.7v0M878.9 877v0M887.2 828v0M887.2 834.1v0M887.2 840.2v0M887.2 846.4v0M887.2 852.5v0M887.2 858.6v0M887.2 864.7v0M887.2 870.9v0M887.2 877v0M855.6 857.9v0M855.6 864.3v0M855.6 870.6v0M855.6 877v0M859 833v0M859 840.4v0M859 847.9v0M908.9 841.3v0M908.9 847.2v0M908.9 853.2v0M908.9 859.1v0M908.9 865.1v0M908.9 871v0M908.9 877v0M918.9 846.3v0M918.9 852.4v0M918.9 858.6v0M918.9 864.7v0M918.9 870.9v0M918.9 877v0M912.2 846.3v0M912.2 852.4v0M912.2 858.6v0M912.2 864.7v0M912.2 870.9v0M912.2 877v0M847.3 875.4v0M881.8 828.2v0M875.5 860.4v0M859.3 823v0M888.6 858.4v0M884.2 827v0M898.1 868.4v0M917.7 861v0M872.3 826.7v0M910.9 869.1v0M897.1 853.7v0M890.2 842.2v0M920.3 871.3v0M872.4 830v0M860.2 839.5v0M897.4 873.9v0M885.3 850.7v0M855 847.5v0M886.2 851.5v0M908.1 860.5v0M860.8 864.6v0M869 869v0M854 873.9v0M852.1 850.6v0M897.6 861.9v0M900.3 840.9v0M907.9 854.5v0M885.8 837.8v0M898.3 826.1v0M918.3 865.5v0M893.5 850.9v0M848.1 831v0M886.3 866.5v0M914.1 843.1v0M855.9 850.3v0M869.1 864.8v0M917.6 849.6v0M859 846.3v0M884.6 846.7v0M893.8 875.8v0M862.3 865.8v0M867.3 821.2v0M893.1 876.8v0M887.9 839v0M854.3 870.2v0M894.1 822v0M895.2 822.8v0M868.8 837.7v0M847.2 838.4v0M918.2 846.4v0M907.1 849.4v0M862.7 837v0M888.3 823.6v0M879.5 843v0M875.7 835.7v0M888.8 875v0M883.4 875.6v0M870.6 850.6v0M868.1 830.2v0M903 868.4v0M889.9 861.1v0M876.3 837.4v0M858.4 851.1v0M899.9 832.8v0M898.6 841.6v0M865.9 840.1v0M873.1 849.7v0M878.1 843.5v0M872.6 860.3v0M912.6 838.4v0"/></g><g fill="#D95F02" stroke="#D95F02"><rect x="928.2" y="875" width="85.3" height="160" rx="4" stroke="none"/><path fill="none" stroke-width="10" stroke-linecap="round" d="M1009 204v0M1009 256v0M1009 297v0M1009 316v0M1009 336v0M1009 351v0M1009 379.5v0M1009 380.5v0M1009 400v0M1009 433v0M1009 449.5v0M1009 454.5v0M1009 459.5v0M1009 474.5v0M1009 480.7v0M1009 486.9v0M1009 493v0M1009 499.2v0M1009 505.4v0M1009 511.6v0M1009 517.8v0M1009 524v0M1009 530.1v0M1009 536.3v0M1009 542.5v0M1009 577.5v0M1009 584.5v0M1009 591.5v0M1009 609.5v0M1009 615.5v0M1009 621.4v0M1009 627.4v0M1009 633.3v0M1009 639.3v0M1009 645.2v0M1009 651.2v0M1009 657.2v0M1009 663.1v0M1009 669.1v0M1009 675v0M1009 681v0M965 334v0M1008.6 684v0M1008.6 691.5v0M986.8 700.6v0M1007.9 704.8v0M1007.9 710.8v0M1007.9 716.9v0M1007.9 722.9v0M1007.9 728.9v0M1007.9 735v0M1007.9 741v0M1007.9 747v0M1007.9 753.1v0M1008.6 764.7v0M1008.6 769.7v0M1008.6 779.7v0M1008.6 785.8v0M1008.6 791.9v0M1008.6 797.9v0M1008.6 804v0M1008.6 810.1v0M1008.6 816.2v0M1008.6 822.3v0M1008.6 828.3v0M1008.6 834.4v0M1008.6 840.5v0M1008.6 846.6v0M1008.6 852.7v0M1008.6 858.8v0M1008.6 864.8v0M1008.6 870.9v0M1008.6 877v0M965.1 758.1v0M965.1 764.2v0M965.1 770.4v0M965.1 776.6v0M965.1 782.8v0M965.1 789v0M965.1 795.1v0M965.1 801.3v0M986.3 756.4v0M986.3 761.8v0M986.3 767.2v0M986.3 772.6v0M986.3 778v0M986.3 789.7v0M986.3 796.3v0M986.3 803v0M1000.4 786.4v0M1000.4 792.2v0M1000.4 798v0M997.1 787.2v0M938.8 813v0M965.5 823.8v0M972.1 822.1v0M985.4 822.1v0M978.8 833v0M978.8 836.3v0M950.5 832.1v0M942.2 842.9v0M942.2 848.6v0M942.2 854.3v0M942.2 860v0M942.2 865.6v0M942.2 871.3v0M942.2 877v0M935.5 850.4v0M955.5 849.6v0M955.5 855.1v0M955.5 860.6v0M955.5 866v0M955.5 871.5v0M955.5 877v0M968.8 841.3v0M968.8 847.2v0M968.8 853.2v0M968.8 859.1v0M968.8 865.1v0M968.8 871v0M968.8 877v0M978.8 836.3v0M978.8 842.1v0M978.8 847.9v0M978.8 853.7v0M978.8 859.5v0M978.8 865.4v0M978.8 871.2v0M978.8 877v0M988.8 839.6v0M988.8 845.8v0M988.8 852.1v0M988.8 858.3v0M988.8 864.5v0M988.8 870.8v0M988.8 877v0M1000.4 811.3v0M1000.4 817.3v0M1000.4 823.3v0M1000.4 829.2v0M1000.4 835.2v0M1000.4 841.2v0M1000.4 847.1v0M1000.4 853.1v0M1000.4 859.1v0M1000.4 865.1v0M1000.4 871v0M1000.4 877v0M1005.4 786.4v0M1005.4 792.4v0M1005.4 798.4v0M1005.4 804.5v0M1005.4 810.5v0M1005.4 816.6v0M1005.4 822.6v0M1005.4 828.7v0M1005.4 834.7v0M1005.4 840.7v0M1005.4 846.8v0M1005.4 852.8v0M1005.4 858.9v0M1005.4 864.9v0M1005.4 871v0M1005.4 877v0M933.1 869.6v0M933.1 877v0M945.5 862.9v0M945.5 870v0M945.5 877v0M933.1 863.8v0M933.1 871.4v0M970.1 864.2v0M961 859.4v0M955.8 867.5v0M972.9 848.7v0M978.8 874.8v0M952.4 834v0M1008.6 822.1v0M940.8 842.5v0M987.3 838v0M966.6 830.6v0M960 874.2v0M939.2 867.9v0M1003.9 805.5v0M939.4 863.3v0M961.7 848.9v0M974.7 865v0M959.8 854.8v0M935.1 859.2v0M948.6 835.9v0M943.2 865.1v0M990.3 865.6v0M1008.6 788.8v0M954.8 849.7v0M974.8 840.5v0M1000.8 797.1v0M1008.6 790v0M1008.6 781.8v0M1008.6 810.3v0M934.8 850.7v0M1008.6 862.4v0M965.4 853.8v0M951.4 840.3v0M977 868.4v0M997.3 853v0M955.3 833.9v0M975.9 859.7v0M1007.6 845.9v0M942.6 867.8v0M1008.6 832v0M999.1 804.3v0M1008.2 827.6v0M997.2 835.1v0M1003.1 797.1v0M942.2 847.1v0M966 858.6v0M947.3 855.8v0M1005.4 860.2v0M983 875.9v0M1008.6 875v0M945.2 864.3v0M974.7 871v0M1005.5 869.4v0M945 861.5v0M995.7 870.7v0M997.1 864.4v0M943.7 868.2v0M986.4 871v0M945.7 852.7v0M933.1 871.5v0M967.6 872.1v0M1004.1 810.6v0M998.6 801.4v0M949.8 859.8v0M998.5 836.2v0M987.3 849.9v0M984 863.7v0M999 867.7v0M960.7 840.7v0M1007.6 803.3v0M981.6 840.6v0M975.7 875.7v0"/></g><g fill="#7570B3" stroke="#7570B3"><rect x="1014.1" y="875" width="85.3" height="160" rx="4" stroke="none"/><path fill="none" stroke-width="10" stroke-linecap="round" d="M1060 546v0M1057 612.5v0M1057 618.7v0M1057 625v0M1057 631.2v0M1057 637.4v0M1057 643.6v0M1057 649.9v0M1057 656.1v0M1057 662.3v0M1057 668.5v0M1057 674.8v0M1057 681v0M1055.3 684v0M1055.3 691.5v0M1055.3 708.1v0M1055.3 714.8v0M1060.3 719.8v0M1060.3 725.6v0M1060.3 731.4v0M1063.7 727.3v0M1055.3 746.4v0M1062 753.1v0M1062 761.4v0M1067 765.5v0M1020.1 749.7v0M1020.4 766.4v0M1020.4 771.8v0M1020.4 777.2v0M1020.4 782.6v0M1020.4 788v0M1020.4 796.3v0M1020.4 802.6v0M1020.4 808.8v0M1020.4 815.1v0M1020.4 821.3v0M1028.7 808.8v0M1033.7 810.5v0M1062.8 778v0M1062.8 783v0M1072 788.8v0M1038.7 790.5v0M1052 792.2v0M1058.7 790.5v0M1062 803v0M1068.7 803.8v0M1058.7 809.7v0M1058.7 815.5v0M1058.7 821.3v0M1065.3 816.3v0M1065.3 824.6v0M1075.3 819.6v0M1075.3 825.5v0M1075.3 831.3v0M1020.4 833v0M1020.4 839.2v0M1020.4 845.5v0M1020.4 851.8v0M1020.4 858.1v0M1020.4 864.4v0M1020.4 870.7v0M1020.4 877v0M1040.4 833v0M1040.4 836.3v0M1043.7 840.4v0M1057 836.3v0M1057 842.9v0M1068.7 833v0M1068.7 839.2v0M1068.7 845.5v0M1068.7 851.8v0M1068.7 858.1v0M1068.7 864.4v0M1068.7 870.7v0M1068.7 877v0M1088.6 841.3v0M1088.6 844.6v0M1028.7 844.6v0M1028.7 851.1v0M1028.7 857.6v0M1028.7 864v0M1028.7 870.5v0M1028.7 877v0M1037 852.9v0M1037 858.9v0M1037 865v0M1037 871v0M1037 877v0M1050.3 852.9v0M1050.3 858.9v0M1050.3 865v0M1050.3 871v0M1050.3 877v0M1058.7 861.2v0M1058.7 866.5v0M1058.7 871.7v0M1058.7 877v0M1082 852.9v0M1082 858.9v0M1082 865v0M1082 871v0M1082 877v0M1092 859.6v0M1092 865.4v0M1092 871.2v0M1092 877v0M1075.3 862.9v0M1075.3 870v0M1075.3 877v0M1059.9 856.6v0M1026.1 871.3v0M1081.2 869.4v0M1051.5 866.7v0M1089 847.1v0M1076 849.9v0M1077.5 851.9v0M1068.6 848.8v0M1028.4 866.7v0M1037.2 854.7v0M1049.6 854.5v0M1085.1 865.4v0M1050.2 866.6v0M1075.5 860.8v0M1057.7 852.9v0M1052.8 841.6v0M1025.3 851.2v0M1061.3 836.6v0M1053.9 876.8v0M1084.4 849.4v0M1043.1 863.8v0M1030.3 859.4v0M1029.1 842.4v0M1035.4 871.2v0M1023.3 865.3v0M1028.9 865.1v0M1034.4 848.6v0M1026.2 858.2v0M1081.2 840.9v0M1094.5 863.3v0M1051.4 865.7v0M1056.2 868.8v0M1078.9 870.4v0M1036.5 843.7v0M1036.3 842.9v0M1062.1 876.5v0M1071.4 874.1v0M1079.9 844.9v0M1039 872.9v0M1067 852.7v0M1057 832.8v0M1083.2 861.9v0M1060.2 839.3v0M1033.9 861.2v0M1066.8 848.1v0M1083.4 855.3v0M1025.9 838.2v0M1068.7 851.7v0M1067.6 831.8v0M1043 861.2v0M1062.5 834.9v0M1033.8 866.6v0M1083.1 858.9v0M1066.3 845.3v0M1029.3 839.5v0"/></g><g fill="#E7298A" stroke="#E7298A"><rect x="1100" y="875" width="85.3" height="160" rx="4" stroke="none"/><path fill="none" stroke-width="10" stroke-linecap="round" d="M1152 372.5v0M1152 388.5v0M1152 393.5v0M1152 413.5v0M1152 418v0M1152 422.5v0M1152 437.5v0M1152 442.8v0M1152 448.2v0M1152 453.5v0M1152 470.5v0M1152 475v0M1152 479.5v0M1152 511v0M1152 528v0M1152 542v0M1152 607.5v0M1126 548.5v0M1126 552.5v0M1123 630v0M1123 668v0M1125.2 689.8v0M1125.2 691.5v0M1121.9 699.8v0M1121.9 706.5v0M1121.9 713.1v0M1151.9 695.6v0M1151.9 724.8v0M1151.9 728.1v0M1151.9 738.9v0M1122.7 736.4v0M1122.7 743.9v0M1122.7 751.4v0M1106.1 750.6v0M1122.7 764.7v0M1122.7 771v0M1122.7 777.2v0M1122.7 783.4v0M1122.7 789.7v0M1122.7 795.9v0M1122.7 802.2v0M1122.7 808.4v0M1122.7 814.6v0M1128.6 793v0M1128.6 799.1v0M1128.6 805.2v0M1128.6 811.3v0M1130.2 818.8v0M1161.8 766.4v0M1107.8 774.7v0M1107.8 780.7v0M1107.8 786.8v0M1107.8 792.8v0M1107.8 798.8v0M1107.8 804.9v0M1107.8 810.9v0M1107.8 816.9v0M1107.8 823v0M1151.9 785.5v0M1121.1 826.3v0M1151.9 825.5v0M1171.8 697.3v0M1105.3 849.6v0M1105.3 855.1v0M1105.3 860.6v0M1105.3 866v0M1105.3 871.5v0M1105.3 877v0M1115.3 851.3v0M1115.3 856.2v0M1123.6 849.6v0M1123.6 855.1v0M1123.6 860.6v0M1123.6 866v0M1123.6 871.5v0M1123.6 877v0M1136.9 857.9v0M1136.9 864.3v0M1136.9 870.6v0M1136.9 877v0M1111.9 866.2v0M1111.9 871.6v0M1111.9 877v0M1170.2 836.3v0M1170.2 842.1v0M1170.2 847.9v0M1170.2 853.7v0M1170.2 859.5v0M1170.2 865.4v0M1170.2 871.2v0M1170.2 877v0M1155.2 849.6v0M1155.2 855.1v0M1155.2 860.6v0M1155.2 866v0M1155.2 871.5v0M1155.2 877v0M1161.8 861.2v0M1161.8 866.5v0M1161.8 871.7v0M1161.8 877v0M1175.5 699v0M1180.4 799.7v0M1180.4 828.8v0M1174.7 836.3v0M1174.7 841.3v0M1178.8 846.3v0M1178.8 851.3v0M1178.8 856.2v0M1178.8 869.6v0M1178.8 877v0M1174.7 852.9v0M1174.7 858.9v0M1174.7 865v0M1174.7 871v0M1174.7 877v0M1172 866.9v0M1104.9 864.5v0M1133.1 850.7v0M1112.1 849v0M1129.2 872v0M1144.6 853.5v0M1157.8 867.9v0M1130.1 851.2v0M1117.1 845.3v0M1144.9 862.2v0M1108.5 870.4v0M1170.2 873.5v0M1105 863.1v0M1164.6 844.4v0M1118.2 855.7v0M1119.4 850v0M1142 863.6v0M1137.4 870v0M1114.2 870.4v0M1163.2 874.3v0M1138.7 875v0M1160.1 869.7v0M1161.4 847.9v0M1168.3 859.9v0M1172.6 858v0M1128.1 867.6v0M1153.5 874.4v0M1125.7 851v0M1121.4 858.7v0M1115.5 848.9v0M1135.4 857.3v0M1135 875.8v0M1104.9 865.7v0M1139.2 868.5v0M1159.6 863.1v0M1167.9 838.2v0M1166.1 842.2v0M1180.4 864.5v0M1174.5 864.2v0M1176.1 843.8v0M1175 844.4v0M1175.1 842.3v0M1179.1 870.8v0M1174.7 839.5v0"/></g><g fill="#66A61E" stroke="#66A61E"><rect x="1185.9" y="875" width="85.3" height="160" rx="4" stroke="none"/><path fill="none" stroke-width="10" stroke-linecap="round" d="M1228 302.5v0M1228 318.5v0M1228 324.5v0M1228 330.5v0M1228 336.5v0M1228 342.5v0M1228 348.5v0M1228 354.5v0M1228 360.5v0M1228 366.5v0M1228 372.5v0M1228 378.5v0M1228 384.5v0M1228 390.5v0M1228 396.5v0M1228 402.5v0M1228 408.5v0M1228 517v0M1228 594.5v0M1225.4 684v0M1227.9 712v0M1227.9 741.9v0M1252.9 759.7v0M1252.9 768v0M1252.9 781.4v0M1252.9 784.7v0M1252.9 799.7v0M1252.9 807.2v0M1252.9 814.6v0M1249.6 815.5v0M1197.1 796.3v0M1197.1 798v0M1197.1 813v0M1194.6 817.1v0M1215.4 794.7v0M1215.4 798v0M1211.3 809.7v0M1211.3 814.6v0M1214.6 824.6v0M1214.6 831.3v0M1224.9 799.7v0M1199.6 832.1v0M1194.6 837.1v0M1203 847.1v0M1236.2 828v0M1242.9 823.8v0M1249.6 833v0M1249.6 838.8v0M1249.6 844.6v0M1264.5 829.6v0M1264.5 837.9v0M1259.5 833.8v0M1224.6 834.6v0M1224.6 841.3v0M1224.6 847.9v0M1227.9 853.8v0M1227.9 862.9v0M1227.9 870v0M1227.9 877v0M1221.3 868.7v0M1259.5 861.2v0M1259.5 864.6v0M1193 859.6v0M1193 865.4v0M1193 871.2v0M1193 877v0M1237.9 861.2v0M1237.9 864.6v0M1249.6 875.4v0M1264.5 877v0M1206.3 875.4v0"/></g><g fill="#E6AB02" stroke="#E6AB02"><rect x="1271.8" y="875" width="85.3" height="160" rx="4" stroke="none"/><path fill="none" stroke-width="10" stroke-linecap="round" d="M1337 586v0M1337 588v0M1316 621v0M1288 674.5v0M1288 681v0M1316 674.5v0M1316 681v0M1287.8 684v0M1315.3 684v0M1315.3 689.8v0M1315.3 695.6v0M1315.3 701.5v0M1315.3 707.3v0M1315.3 713.1v0M1309.5 709v0M1328.6 716.5v0M1328.6 724.8v0M1287.8 724.8v0M1287.8 729.8v0M1350.7 725.6v0M1309.1 734.8v0M1309.1 761.4v0M1309.1 767.5v0M1309.1 773.6v0M1309.1 779.7v0M1309.1 785.8v0M1309.1 791.9v0M1309.1 798v0M1315.3 778.9v0M1287.8 773.9v0M1336.9 780.5v0M1350.7 763.1v0M1350.7 768.9v0M1350.7 774.7v0M1350.7 791.3v0M1350.7 798v0M1282.8 788.8v0M1287.8 796.3v0M1287.8 803v0M1287.8 809.7v0M1287.8 816.3v0M1287.8 823v0M1281.2 823v0M1281.2 829.2v0M1281.2 835.4v0M1281.2 841.7v0M1281.2 847.9v0M1284.5 862.9v0M1284.5 870v0M1284.5 877v0M1316.1 807.2v0M1309.5 816.3v0M1309.5 823.8v0M1309.5 831.3v0M1317.8 820.5v0M1337.8 819.6v0M1337.8 821.3v0M1349.4 826.3v0M1349.4 828v0M1289.5 845.4v0M1312.8 842.9v0M1312.8 848.6v0M1312.8 854.3v0M1312.8 860v0M1312.8 865.6v0M1312.8 871.3v0M1312.8 877v0M1319.5 846.3v0M1319.5 852.4v0M1319.5 858.6v0M1319.5 864.7v0M1319.5 870.9v0M1319.5 877v0M1342.8 851.3v0M1342.8 857.7v0M1342.8 864.1v0M1342.8 870.6v0M1342.8 877v0M1332.8 862.9v0M1332.8 870v0M1332.8 877v0M1296.2 874.6v0M1296.2 877v0M1352.2 853.5v0M1352.2 864.9v0M1320.9 868.6v0M1327.1 870.9v0M1320.6 855.3v0M1346.4 860.8v0M1330.8 871.5v0M1325.3 865.8v0M1330 867.9v0M1319.9 876.4v0M1323.8 873.1v0M1322.9 850.3v0M1330.6 863.7v0M1352.2 852v0M1345.5 864.8v0M1341.1 851.9v0M1321 859.9v0M1349 874.4v0M1340.9 852.4v0M1330.2 873.6v0"/></g><g fill="#A6761D" stroke="#A6761D"><rect x="1357.7" y="875" width="85.3" height="160" rx="4" stroke="none"/><path fill="none" stroke-width="10" stroke-linecap="round" d="M1375 502v0M1375 594.5v0M1375 602v0M1375 609.5v0M1375 642.5v0M1375 678v0M1410 607.5v0M1410 629.5v0M1410 657v0M1410 663v0M1410 669v0M1410 675v0M1410 681v0M1366.9 687.3v0M1410.2 688.2v0M1374.9 699.8v0M1374.9 719.8v0M1372.7 737.3v0M1366.1 740.6v0M1374.9 749.7v0M1374.9 754.7v0M1374.9 759.7v0M1397.7 739.8v0M1397.7 753.1v0M1397.7 759.2v0M1397.7 765.3v0M1397.7 771.4v0M1366.9 768.9v0M1374.4 774.7v0M1374.4 778v0M1364.4 781.4v0M1364.4 787.3v0M1364.4 793.2v0M1364.4 799.1v0M1364.4 805v0M1364.4 810.9v0M1364.4 816.8v0M1364.4 822.7v0M1364.4 828.6v0M1364.4 834.5v0M1364.4 840.4v0M1364.4 846.3v0M1367.7 786.4v0M1367.7 792.3v0M1367.7 798.3v0M1367.7 804.3v0M1367.7 810.3v0M1367.7 816.3v0M1367.7 822.3v0M1367.7 828.3v0M1367.7 834.3v0M1367.7 840.3v0M1367.7 846.3v0M1397.7 789.7v0M1397.7 795.5v0M1397.7 801.3v0M1432.6 804.7v0M1432.6 808v0M1389.4 834.6v0M1402.7 835.4v0M1417.6 814.6v0M1422.6 826.3v0M1422.6 832.6v0M1422.6 839v0M1422.6 845.3v0M1422.6 851.6v0M1422.6 858v0M1422.6 864.3v0M1422.6 870.7v0M1422.6 877v0M1434.3 833.8v0M1362.7 857.9v0M1362.7 864.3v0M1362.7 870.6v0M1362.7 877v0M1372.7 862.9v0M1372.7 870v0M1372.7 877v0M1389.4 857.9v0M1389.4 864.3v0M1389.4 870.6v0M1389.4 877v0M1381 858.7v0M1411 856.3v0M1411 863.2v0M1411 870.1v0M1411 877v0M1432.6 861.2v0M1432.6 866.5v0M1432.6 871.7v0M1432.6 877v0M1412.6 859.7v0M1401.9 876.5v0M1370.3 856.7v0M1408 871.7v0M1382.3 872.3v0M1414.5 857v0M1426.9 861.5v0M1436.5 869.9v0M1426.3 873.3v0M1413.8 857.5v0M1374.6 863.1v0M1395.1 860.4v0M1363.6 868.7v0M1368.3 865.7v0M1395.9 858.7v0M1401.1 867.2v0M1395.1 857.6v0M1399.4 876.5v0M1396.1 859.5v0M1396.3 859.5v0M1373.3 859.2v0M1435 871.3v0M1382.2 861.1v0M1408.6 874.4v0M1389.4 856.2v0M1363.6 871.6v0M1418.5 859.6v0M1362.6 864.3v0"/></g><g fill="#666666" stroke="#666666"><rect x="1443.6" y="875" width="85.3" height="160" rx="4" stroke="none"/><path fill="none" stroke-width="10" stroke-linecap="round" d="M1450 527v0M1450 533.2v0M1450 539.5v0M1450 545.8v0M1450 552v0M1450 571v0M1450 584.5v0M1450 587v0M1450 612v0M1450 617v0M1454.3 684v0M1450.1 699.8v0M1452.6 711.5v0M1452.6 717.4v0M1452.6 723.3v0M1452.6 729.2v0M1452.6 735.1v0M1452.6 741v0M1452.6 747v0M1452.6 752.9v0M1452.6 758.8v0M1452.6 764.7v0M1455.9 711.5v0M1455.9 717.4v0M1455.9 723.3v0M1455.9 729.2v0M1455.9 735.1v0M1455.9 741v0M1455.9 747v0M1455.9 752.9v0M1455.9 758.8v0M1455.9 764.7v0M1485.9 728.1v0M1485.9 733.9v0M1485.9 739.8v0M1485.9 745.6v0M1485.9 751.4v0M1485.9 769.7v0M1485.9 778v0M1455.9 783.9v0M1454.3 799.7v0M1454.3 805.6v0M1454.3 811.6v0M1454.3 817.5v0M1454.3 823.5v0M1454.3 829.4v0M1454.3 835.4v0M1454.3 841.3v0M1454.3 847.3v0M1454.3 853.2v0M1454.3 859.2v0M1454.3 865.1v0M1454.3 871.1v0M1454.3 877v0M1459.3 803v0M1459.3 808.7v0M1459.3 814.3v0M1459.3 820v0M1459.3 825.6v0M1459.3 831.3v0M1465.9 823v0M1465.9 831.3v0M1485.9 811.3v0M1485.9 818.8v0M1485.9 826.3v0M1505.8 818.8v0M1462.6 846.3v0M1462.6 852.4v0M1462.6 858.6v0M1462.6 864.7v0M1462.6 870.9v0M1462.6 877v0M1479.2 842.9v0M1479.2 848.6v0M1479.2 854.3v0M1479.2 860v0M1479.2 865.6v0M1479.2 871.3v0M1479.2 877v0M1499.2 849.6v0M1499.2 855.1v0M1499.2 860.6v0M1499.2 866v0M1499.2 871.5v0M1499.2 877v0M1512.5 836.3v0M1512.5 842.1v0M1512.5 847.9v0M1512.5 853.7v0M1512.5 859.5v0M1512.5 865.4v0M1512.5 871.2v0M1512.5 877v0M1489.2 857.9v0M1489.2 864.3v0M1489.2 870.6v0M1489.2 877v0M1523.7 728.1v0M1523.7 734.1v0M1523.7 740.1v0M1523.7 746.1v0M1523.7 752.1v0M1523.7 758.1v0M1520.3 836.3v0M1520.3 842.1v0M1520.3 847.9v0M1520.3 853.7v0M1520.3 859.5v0M1520.3 865.4v0M1520.3 871.2v0M1520.3 877v0M1508.4 868.5v0M1456.3 841v0M1493.3 852.3v0M1457.2 852.6v0M1497.3 861v0M1453.6 868.9v0M1459.8 845.1v0M1512.3 835.4v0M1475.9 871.4v0M1493.2 860.9v0M1513 868.8v0M1471.3 854.1v0M1462.6 853.7v0M1464.5 840.9v0M1457.6 853.4v0M1507.3 844.1v0M1478.9 855.5v0M1504.5 863.3v0M1451.6 849.4v0M1462.2 845.8v0M1493.1 864.4v0M1466.3 876v0M1448.5 874.3v0M1450.6 839.3v0M1495.7 873.4v0M1512.7 855v0M1454.3 872.6v0M1504.3 842.9v0M1503.8 875.9v0M1460.5 850v0M1450.2 840.9v0M1455.7 841.4v0M1516.8 834.5v0M1505.5 859.8v0M1467.8 865.7v0M1462.7 868v0M1478.5 874.8v0M1479.7 874.8v0M1499.6 851.3v0M1457.7 842.5v0M1468.9 876.9v0M1482.9 861.3v0M1495 862.7v0M1517.1 851.4v0M1517.4 868.5v0M1521.6 839.5v0M1517.8 838.5v0"/></g><g fill="#1B9E77" stroke="#1B9E77"><rect x="1529.5" y="875" width="85.3" height="160" rx="4" stroke="none"/><path fill="none" stroke-width="10" stroke-linecap="round" d="M1556 564v0M1587 545v0M1587 562.5v0M1587 568v0M1587 573.5v0M1540 602.5v0M1540 627v0M1540 632v0M1540 647v0M1540 652.7v0M1540 658.3v0M1540 664v0M1540 669.7v0M1540 675.3v0M1540 681v0M1587 602v0M1587 617v0M1587 623v0M1587 629v0M1587 635v0M1587 641v0M1587 647v0M1587 679v0M1540.3 684v0M1540.3 689.8v0M1540.3 695.6v0M1540.3 701.5v0M1540.3 707.3v0M1540.3 713.1v0M1540.3 718.9v0M1540.3 724.8v0M1540.3 730.6v0M1540.3 736.4v0M1540.3 742.2v0M1540.3 748.1v0M1546.1 684v0M1546.1 690v0M1546.1 695.9v0M1546.1 701.9v0M1546.1 707.9v0M1546.1 713.8v0M1546.1 719.8v0M1553.6 731.4v0M1553.6 738.1v0M1553.6 744.7v0M1553.6 751.4v0M1569.9 703.1v0M1569.9 710.6v0M1569.9 718.1v0M1569.9 731.4v0M1569.9 737v0M1569.9 742.5v0M1569.9 748.1v0M1596.1 702.3v0M1586.9 713.1v0M1586.9 719.4v0M1586.9 725.6v0M1586.9 731.8v0M1586.9 738.1v0M1595.2 717.3v0M1595.2 738.9v0M1606.9 738.1v0M1542.8 761.4v0M1542.8 768v0M1542.8 774.7v0M1542.8 781.4v0M1542.8 788v0M1537 788.8v0M1550.3 786.4v0M1550.3 794.7v0M1575.2 762.2v0M1586.9 759.7v0M1586.9 764.7v0M1586.9 769.7v0M1595.2 759.7v0M1595.2 767.2v0M1595.2 774.7v0M1596.9 770.5v0M1609.9 782.2v0M1596.9 793.8v0M1606.9 795.5v0M1569.9 774.7v0M1569.9 780.3v0M1569.9 785.8v0M1569.9 791.3v0M1565.3 790.5v0M1578.6 803.8v0M1571.9 803v0M1571.9 808.8v0M1571.9 814.6v0M1540.3 803v0M1540.3 809.2v0M1540.3 815.5v0M1540.3 821.7v0M1540.3 828v0M1550.3 819.6v0M1550.3 823v0M1558.6 813v0M1558.6 818.8v0M1558.6 824.6v0M1558.6 830.4v0M1558.6 836.3v0M1558.6 842.1v0M1558.6 847.9v0M1558.6 853.7v0M1558.6 859.5v0M1558.6 865.4v0M1558.6 871.2v0M1558.6 877v0M1566.9 811.3v0M1566.9 817.3v0M1566.9 823.3v0M1566.9 829.2v0M1566.9 835.2v0M1566.9 841.2v0M1566.9 847.1v0M1566.9 853.1v0M1566.9 859.1v0M1566.9 865.1v0M1566.9 871v0M1566.9 877v0M1575.2 816.3v0M1575.2 822.4v0M1575.2 828.4v0M1575.2 834.5v0M1575.2 840.6v0M1575.2 846.7v0M1575.2 852.7v0M1575.2 858.8v0M1575.2 864.9v0M1575.2 870.9v0M1575.2 877v0M1586.9 823v0M1586.9 829v0M1586.9 835v0M1586.9 841v0M1586.9 847v0M1586.9 853v0M1586.9 859v0M1586.9 865v0M1586.9 871v0M1586.9 877v0M1595.2 824.6v0M1595.2 831.3v0M1538.6 839.6v0M1538.6 845.8v0M1538.6 852.1v0M1538.6 858.3v0M1538.6 864.5v0M1538.6 870.8v0M1538.6 877v0M1550.3 836.3v0M1550.3 842.1v0M1550.3 847.9v0M1550.3 853.7v0M1550.3 859.5v0M1550.3 865.4v0M1550.3 871.2v0M1550.3 877v0M1606.9 841.3v0M1606.9 847.2v0M1606.9 853.2v0M1606.9 859.1v0M1606.9 865.1v0M1606.9 871v0M1606.9 877v0M1600.2 849.6v0M1600.2 855.1v0M1600.2 860.6v0M1600.2 866v0M1600.2 871.5v0M1600.2 877v0M1596.9 861.2v0M1596.9 866.5v0M1596.9 871.7v0M1596.9 877v0M1588.1 851v0M1561.7 844v0M1561.9 870v0M1544.5 864.2v0M1597.9 827.3v0M1571.4 819.7v0M1552.2 834.8v0M1599.3 871.6v0M1580.5 829.4v0M1537.3 834.4v0M1607.4 872.4v0M1598.2 867.8v0M1575.9 826.1v0M1563.6 813.8v0M1545.9 840.6v0M1578.8 825.4v0M1554.5 806.1v0M1551.3 833.9v0M1551.2 812.8v0M1548.9 842.8v0M1607 844.4v0M1571.2 800.5v0M1539.2 820.9v0M1540.5 875.4v0M1607.1 872.5v0M1558.6 856.4v0M1585.7 863.6v0M1544.3 870.7v0M1573.2 842v0M1552.2 826.9v0M1566.3 809.6v0M1597.2 867.3v0M1572.9 832.3v0M1558.1 804.5v0M1590 824.8v0M1589.7 843.8v0M1582 850.6v0M1563.6 868.7v0M1541.9 872.5v0M1575.2 868.4v0M1598.5 859.4v0M1580.7 869.4v0M1539.2 830v0M1594.8 844.6v0M1548.5 821.6v0M1544.2 835.3v0M1593.2 853.4v0M1554 810.5v0M1568.9 863.2v0M1557.7 823.9v0M1574.9 841.8v0M1599.9 874v0M1593.8 825.6v0M1598.7 832.4v0M1547.1 869.2v0M1565.7 842.7v0M1580.7 858v0M1546.3 826.9v0M1565.2 868.5v0M1544.2 860.4v0M1566.4 831.7v0M1540.7 817.4v0M1543.3 869.8v0M1535.6 831.9v0M1607.9 858.3v0M1562.4 805.7v0M1578.2 822.5v0M1588.9 874.7v0M1557.7 842.8v0M1559.7 826.1v0M1609.9 867.9v0M1556.4 876.1v0M1568.4 821.6v0M1576.5 847.2v0M1598 851.4v0M1609.9 861.9v0M1569.2 817.2v0M1609.9 876.8v0M1607.7 841.3v0M1571.9 809.6v0M1578.8 813.7v0M1586.6 872.6v0M1544.1 862.5v0M1608.9 846.8v0M1596.6 827.7v0"/></g><g fill="#D95F02" stroke="#D95F02"><rect x="1615.3" y="879" width="85.4" height="156" rx="4" stroke="none"/><path fill="none" stroke-width="10" stroke-linecap="round" d="M1696 573.5v0M1696 579.2v0M1696 584.9v0M1696 590.6v0M1696 596.3v0M1696 602v0M1696 634.5v0M1696 640.3v0M1696 646.1v0M1696 651.9v0M1696 657.8v0M1696 663.6v0M1696 669.4v0M1696 675.2v0M1696 681v0M1688.5 672v0M1695.8 684v0M1695.8 690.1v0M1695.8 696.1v0M1695.8 702.2v0M1695.8 708.3v0M1695.8 714.4v0M1695.8 720.4v0M1695.8 726.5v0M1695.8 732.6v0M1695.8 738.7v0M1695.8 744.7v0M1695.8 764.7v0M1695.8 785.5v0M1669.3 788v0M1669.3 796.3v0M1691.7 801.3v0M1691.7 808v0M1688.4 803.8v0M1669.3 816.3v0M1669.3 821.3v0M1669.3 826.3v0M1673.4 827.1v0M1685.9 820.5v0M1672.6 840.4v0M1690.1 834.6v0M1690.1 840.3v0M1690.1 845.9v0M1690.1 851.6v0M1690.1 857.2v0M1690.1 862.9v0M1693.4 836.3v0M1693.4 842.5v0M1693.4 848.8v0M1693.4 855v0M1693.4 861.2v0M1633.5 861.2v0M1633.5 866.5v0M1633.5 871.7v0M1633.5 877v0M1650.1 861.2v0M1650.1 866.5v0M1650.1 871.7v0M1650.1 877v0M1658.5 865.4v0M1623.5 869.6v0M1623.5 877v0M1665.1 877v0M1676.8 877v0M1659.5 872.6v0M1622.9 863.1v0M1623.8 866.9v0M1634.6 867.8v0M1624.8 864.4v0M1620.3 872.6v0M1641.4 873.9v0M1654.2 875.6v0M1660.8 869.4v0M1639.8 868.4v0M1620.6 875.8v0M1636.6 860.7v0"/></g><g fill="#7570B3" stroke="#7570B3"><rect x="1701.3" y="875" width="85.3" height="160" rx="4" stroke="none"/><path fill="none" stroke-width="10" stroke-linecap="round" d="M1737 522.5v0M1737 527.5v0M1737 544.5v0M1737 550.8v0M1737 557v0M1737 563.2v0M1737 569.5v0M1737 587v0M1737 593.2v0M1737 599.3v0M1737 605.5v0M1753 602v0M1711 656v0M1710.9 702.6v0M1708.1 721.9v0M1768 721.9v0M1710.9 741.4v0M1710.9 746.4v0M1741.7 744.7v0M1741.7 749.7v0M1758.3 745.6v0M1766.6 734.8v0M1766.6 740.9v0M1766.6 747v0M1766.6 753.1v0M1766.6 759.2v0M1766.6 765.3v0M1766.6 771.4v0M1775 753.1v0M1775 758.1v0M1710.9 764.7v0M1731.7 770.5v0M1710.1 783v0M1756.7 782.2v0M1771.6 782.2v0M1721.7 794.7v0M1731.7 801.3v0M1731.7 806.3v0M1731.7 811.3v0M1738.3 803.8v0M1756.7 796.3v0M1756.7 802.4v0M1756.7 808.5v0M1756.7 814.6v0M1771.6 799.7v0M1771.6 808v0M1778.3 806.3v0M1778.3 808v0M1708.4 811.3v0M1708.4 817.3v0M1708.4 823.3v0M1708.4 829.2v0M1708.4 835.2v0M1708.4 841.2v0M1708.4 847.1v0M1708.4 853.1v0M1708.4 859.1v0M1708.4 865.1v0M1708.4 871v0M1708.4 877v0M1716.7 829.6v0M1716.7 835.5v0M1716.7 841.5v0M1716.7 847.4v0M1716.7 853.3v0M1716.7 859.2v0M1716.7 865.2v0M1716.7 871.1v0M1716.7 877v0M1741.7 822.1v0M1733.4 836.3v0M1733.4 842.1v0M1733.4 847.9v0M1733.4 853.7v0M1733.4 859.5v0M1733.4 865.4v0M1733.4 871.2v0M1733.4 877v0M1753.3 819.6v0M1753.3 825.4v0M1753.3 831.1v0M1753.3 836.8v0M1753.3 842.6v0M1753.3 848.3v0M1753.3 854.1v0M1753.3 859.8v0M1753.3 865.5v0M1753.3 871.3v0M1753.3 877v0M1770 816.3v0M1770 822.4v0M1770 828.4v0M1770 834.5v0M1770 840.6v0M1770 846.7v0M1770 852.7v0M1770 858.8v0M1770 864.9v0M1770 870.9v0M1770 877v0M1778.3 836.3v0M1778.3 842.1v0M1778.3 847.9v0M1778.3 853.7v0M1778.3 859.5v0M1778.3 865.4v0M1778.3 871.2v0M1778.3 877v0M1725 839.6v0M1725 845.8v0M1725 852.1v0M1725 858.3v0M1725 864.5v0M1725 870.8v0M1725 877v0M1746.7 849.6v0M1746.7 855.1v0M1746.7 860.6v0M1746.7 866v0M1746.7 871.5v0M1746.7 877v0M1781.7 852.9v0M1781.7 858.9v0M1781.7 865v0M1781.7 871v0M1781.7 877v0M1761.6 833v0M1761.6 839.2v0M1761.6 845.5v0M1761.6 851.8v0M1761.6 858.1v0M1761.6 864.4v0M1761.6 870.7v0M1761.6 877v0M1706.2 866.5v0M1729.8 842.7v0M1716.2 846.1v0M1767.9 864.6v0M1780 840.6v0M1765.7 847.6v0M1761 862.5v0M1764.9 867.7v0M1741.3 837.4v0M1737.5 869v0M1740.6 831.9v0M1724.1 860.2v0M1769.6 843.8v0M1761.3 853.6v0M1771.9 838.3v0M1743.2 852v0M1776.9 828.8v0M1708 829.1v0M1770.3 825.9v0M1775.2 874.3v0M1775.7 871.1v0M1737.9 870.4v0M1730.6 860.9v0M1781 874.7v0M1753.9 834.5v0M1710.6 819.5v0M1715 858.1v0M1773.8 856.9v0M1774.3 851.2v0M1774.7 865.9v0M1713.3 837.5v0M1750.8 864.5v0M1736.3 831.5v0M1768.2 866.9v0M1751.2 824.6v0M1751.3 850.3v0M1776.6 827.3v0M1715.9 830.3v0M1711.9 841.2v0M1732.1 852.2v0M1776.2 827.9v0M1756.7 849.1v0M1746.8 859.7v0M1706.2 833.4v0M1726.6 839.9v0M1741.3 831.1v0M1713.8 867.6v0M1714.2 842.1v0M1781.7 843.2v0M1758.1 814.4v0M1723.9 868.8v0M1775 847.5v0M1748.1 825v0M1763.4 835.4v0M1739.6 827.7v0M1739.4 838.5v0M1759.8 850.6v0M1714.6 861.2v0M1758.3 857.3v0M1762.8 816.1v0M1751.9 857.7v0M1745.8 856.2v0M1712.2 828.4v0M1743 872.2v0M1775.2 831.3v0M1727.6 872.5v0M1773.9 853.8v0M1759.5 814.5v0M1742.1 868.4v0M1738.7 873.4v0M1761.8 861.8v0M1781.7 874.9v0M1753.9 836v0M1759.2 817.6v0M1716.5 867v0M1746.6 837.7v0M1725.2 870.7v0"/></g><g fill="#E7298A" stroke="#E7298A"><rect x="1787.2" y="919" width="3.8" height="116" rx="4" stroke="none"/><rect x="1790" y="897" width="8" height="138" rx="4" stroke="none"/><rect x="1797" y="871" width="75.5" height="164" rx="4" stroke="none"/><path fill="none" stroke-width="10" stroke-linecap="round" d="M1811 27v0M1811 216.5v0M1811 324.5v0M1811 336v0M1811 355.5v0M1811 403v0M1811 440.5v0M1811 443.5v0M1836 449v0M1799 525.5v0M1799 527.5v0M1799 542v0M1799 564.5v0M1799 570.1v0M1799 575.8v0M1799 581.4v0M1799 587v0M1819 577v0M1857 573v0M1799 602v0M1799 649.5v0M1817 632v0M1817 654.5v0M1817 662.5v0M1815 674.5v0M1815 681v0M1822 674.5v0M1822 681v0M1836 614.5v0M1836 622.5v0M1836 644.5v0M1836 652.5v0M1836 669.5v0M1836 675.2v0M1836 681v0M1867 618v0M1867 681v0M1818.2 684v0M1818.2 690v0M1818.2 696.1v0M1818.2 702.1v0M1818.2 708.1v0M1818.2 714.2v0M1818.2 720.2v0M1818.2 726.2v0M1818.2 732.2v0M1818.2 738.3v0M1818.2 744.3v0M1818.2 750.3v0M1818.2 756.4v0M1818.2 762.4v0M1818.2 768.4v0M1818.2 774.5v0M1818.2 780.5v0M1818.2 786.5v0M1818.2 792.6v0M1818.2 798.6v0M1818.2 804.6v0M1818.2 810.7v0M1818.2 816.7v0M1818.2 822.7v0M1818.2 828.8v0M1818.2 834.8v0M1818.2 840.8v0M1818.2 846.8v0M1818.2 852.9v0M1818.2 858.9v0M1818.2 864.9v0M1818.2 871v0M1818.2 877v0M1823.2 684v0M1823.2 690v0M1823.2 696.1v0M1823.2 702.1v0M1823.2 708.1v0M1823.2 714.2v0M1823.2 720.2v0M1823.2 726.2v0M1823.2 732.2v0M1823.2 738.3v0M1823.2 744.3v0M1823.2 750.3v0M1823.2 756.4v0M1823.2 762.4v0M1823.2 768.4v0M1823.2 774.5v0M1823.2 780.5v0M1823.2 786.5v0M1823.2 792.6v0M1823.2 798.6v0M1823.2 804.6v0M1823.2 810.7v0M1823.2 816.7v0M1823.2 822.7v0M1823.2 828.8v0M1823.2 834.8v0M1823.2 840.8v0M1823.2 846.8v0M1823.2 852.9v0M1823.2 858.9v0M1823.2 864.9v0M1823.2 871v0M1823.2 877v0M1809.9 745.6v0M1798.8 761.4v0M1835.7 684v0M1835.7 711.5v0M1835.7 718.1v0M1835.7 724.8v0M1835.7 746.4v0M1835.7 752.2v0M1835.7 758.1v0M1835.7 763.9v0M1835.7 769.7v0M1837.4 789.7v0M1858.2 684v0M1858.2 686.5v0M1859.8 779.7v0M1859.8 781.4v0M1835.7 824.6v0M1835.7 830.5v0M1835.7 836.3v0M1835.7 842.1v0M1835.7 847.9v0M1835.7 853.7v0M1835.7 859.5v0M1835.7 865.4v0M1835.7 871.2v0M1835.7 877v0M1839.9 842.9v0M1839.9 848.6v0M1839.9 854.3v0M1839.9 860v0M1839.9 865.6v0M1839.9 871.3v0M1839.9 877v0M1798.3 871.2v0M1798.3 877v0M1856.5 844.6v0M1856.5 851.1v0M1856.5 857.6v0M1856.5 864v0M1856.5 870.5v0M1856.5 877v0M1866.6 684v0M1856.6 687.3v0M1864.9 696.5v0M1864.9 702.8v0M1864.9 709.1v0M1864.9 715.4v0M1864.9 721.8v0M1864.9 728.1v0M1861.6 711.5v0M1861.6 718.1v0M1861.6 724.8v0M1864.1 778v0M1863.2 794.6v0M1863.2 801.3v0M1859.9 812.9v0M1859.9 821.3v0M1863.2 827.9v0M1863.2 834.1v0M1863.2 840.2v0M1863.2 846.3v0M1863.2 852.5v0M1863.2 858.6v0M1863.2 864.7v0M1863.2 870.9v0M1863.2 877v0M1856.6 832.9v0M1856.6 839.2v0M1856.6 845.5v0M1856.6 851.8v0M1856.6 858.1v0M1856.6 864.4v0M1856.6 870.7v0M1856.6 877v0M1809.3 874v0M1793.8 875.2v0M1838.7 872.6v0M1855 830.6v0M1841.4 863.7v0M1839.3 875.6v0M1853.8 865.7v0M1855.5 828.3v0M1838.9 840.6v0M1836.8 865v0M1852.1 842.3v0M1856.4 834.1v0M1854.9 840.3v0M1851.8 852v0M1832.2 840.5v0M1846.2 860.1v0M1851.7 866.3v0M1838.4 835.6v0M1852.4 871.4v0M1854.5 845.5v0M1849.4 862.3v0M1856.6 844.5v0M1867.6 871.3v0M1867.6 831.5v0M1853.2 834.8v0M1857.6 840.1v0M1855.2 839.4v0M1857.3 847.9v0M1867.6 861.9v0M1853.8 857v0M1853.9 863.7v0M1856.5 875.2v0M1857.2 832.2v0M1864.4 836.2v0M1859.8 853.2v0M1858.2 854.1v0M1866.7 868.3v0M1849.3 869.5v0M1856.4 865.2v0M1829 872.7v0M1837.4 868v0M1861.6 872.8v0M1850.6 870.9v0M1830.2 867.3v0M1839.6 875.1v0M1867.6 867v0M1827.7 860.5v0M1863.7 863.7v0M1837 868.8v0"/></g><g fill="#66A61E" stroke="#66A61E"><rect x="1873" y="899" width="12" height="136" rx="4" stroke="none"/><rect x="1884" y="922" width="17" height="113" rx="4" stroke="none"/><rect x="1899" y="868" width="59.5" height="167" rx="4" stroke="none"/><path fill="none" stroke-width="10" stroke-linecap="round" d="M1954 571v0M1953.5 614.5v0M1953.5 620.5v0M1953.5 626.5v0M1953.5 632.5v0M1953.5 638.5v0M1953.5 644.5v0M1953.5 657v0M1953.5 664.5v0M1953.5 672v0M1953.6 684v0M1953.6 690v0M1953.6 696.1v0M1953.6 702.1v0M1953.6 708.1v0M1953.6 719.8v0M1953.6 724.8v0M1953.6 729.8v0M1953.6 753v0M1907 724.8v0M1941.1 761.4v0M1941.4 772.2v0M1949.7 776.3v0M1949.7 781.3v0M1952.2 789.7v0M1952.2 794.6v0M1952.2 799.6v0M1941.1 798.8v0M1919 811.3v0M1941.1 811.3v0M1941.1 819.6v0M1952.2 816.3v0M1952.2 822.6v0M1952.2 828.9v0M1952.2 835.2v0M1952.2 841.6v0M1952.2 847.9v0M1941.1 836.2v0M1941.1 842.9v0M1879.9 841.2v0M1890.7 851.2v0M1890.7 862.9v0M1890.7 869.9v0M1890.7 877v0M1906.5 846.2v0M1906.5 852v0M1906.5 857.9v0M1919 842.9v0M1919 850.4v0M1919 857.9v0M1901.5 872.8v0M1901.5 877v0M1916.5 874.5v0M1916.5 877v0M1929.8 869.5v0M1929.8 877v0M1941.4 861.2v0M1941.4 866.5v0M1941.4 871.7v0M1941.4 877v0M1953.1 872.8v0M1953.1 877v0M1880.2 906.5v0M1886.9 895.2v0M1891.5 902v0M1878 920.3v0M1878 922.1v0M1889 898v0M1896 903v0M1894 880v0M1890 866v0M1950.5 873.1v0M1906.3 873.3v0M1907.2 871.9v0M1944.5 869.2v0M1930.4 870.7v0M1943.6 871.2v0M1934.9 873.2v0M1929.8 870.6v0M1945.3 869.5v0M1933.5 869.8v0M1920.3 874v0"/></g><g fill="#E6AB02" stroke="#E6AB02"><rect x="1959.1" y="875" width="85.3" height="160" rx="4" stroke="none"/><path fill="none" stroke-width="10" stroke-linecap="round" d="M2013.5 673v0M2037.1 699.8v0M2037.1 734.8v0M2037.1 740.6v0M2037.1 746.5v0M2037.1 752.4v0M2037.1 758.2v0M2037.1 764.1v0M2037.1 770v0M2037.1 775.9v0M2037.1 781.7v0M2037.1 787.6v0M2037.1 793.5v0M2037.1 799.3v0M2037.1 805.2v0M2037.1 811.1v0M2037.1 817v0M2037.1 822.8v0M2037.1 828.7v0M2037.1 834.6v0M2013.8 746.4v0M2013.8 752.7v0M2013.8 759v0M2013.8 765.4v0M2013.8 771.7v0M2013.8 778v0M1991 764.7v0M2013.8 794.6v0M2013.8 800.2v0M2013.8 805.7v0M2013.8 811.3v0M2022.9 803.8v0M2016.3 800.5v0M1991 796.3v0M1991 802.4v0M1991 808.5v0M1991 814.6v0M1999.7 802.1v0M1983 812.1v0M2022.9 825.4v0M1965.9 824.6v0M1965.9 829.6v0M1986.3 822.9v0M1986.3 828.9v0M1986.3 834.9v0M1986.3 841v0M1986.3 847v0M1986.3 853v0M1986.3 859v0M1986.3 865v0M1986.3 871v0M1986.3 877v0M1993 836.2v0M1993 842.1v0M1993 847.9v0M2016.3 836.2v0M2016.3 842.1v0M2016.3 847.9v0M2016.3 853.7v0M2016.3 859.5v0M2016.3 865.4v0M2016.3 871.2v0M2016.3 877v0M2024.6 844.6v0M2024.6 851.2v0M2024.6 857.9v0M2024.6 864.5v0M2036.3 852.9v0M2036.3 858.9v0M2036.3 864.9v0M2036.3 871v0M2036.3 877v0M1966.4 859.5v0M1966.4 865.4v0M1966.4 871.2v0M1966.4 877v0M1976.4 862.9v0M1976.4 869.9v0M1976.4 877v0M1999.7 856.2v0M1999.7 863.1v0M1999.7 870.1v0M1999.7 877v0M2008 862.9v0M2008 869.9v0M2008 877v0M2032.9 866.2v0M2032.9 871.6v0M2032.9 877v0M2019.4 873.4v0M1991.4 861.2v0M2037.2 873.9v0M2006.9 851.3v0M2013 866.2v0M2024.6 839v0M2006.3 852.1v0M2015.7 859.6v0M2009.9 847.6v0M1967.8 874.5v0M2012.1 850.1v0M1992.5 871.9v0M2003.8 872.3v0M1964 876.9v0M2019.9 842.6v0M2009.6 872.3v0M1964 869.1v0M2020.8 867.8v0M2039.5 859.8v0M1987.5 833v0M1980.1 849.9v0M2027.9 850.1v0M1986.1 837.3v0M2015.5 852.5v0M1972.1 869v0M2034 849.5v0M2021.2 851.3v0M1974.7 855v0M2004 847v0M2039.5 849.9v0M2012.9 874.4v0M1983.1 841.1v0M2033 844.3v0M2038.5 867.2v0M2026.3 859.1v0M2039.5 857.6v0M1986.1 875v0M2033.7 871.3v0M2013.5 867.3v0M1994.1 848.7v0M2001.3 850.3v0M1989 862.9v0M2011.2 874.8v0M2029.1 876.6v0M1990.9 838.3v0M1981.6 847v0M1991.7 844v0M1981.7 834.3v0"/></g><line x1="140" y1="897" x2="2059" y2="897" stroke="#000" stroke-width="4" stroke-dasharray="16 16"/><rect x="141" y="7" width="1918" height="1043" fill="none" stroke="#333" stroke-width="2"/><line x1="141" y1="1051.5" x2="2059" y2="1051.5" stroke="#333" stroke-width="1"/><g stroke="#333" stroke-width="4"><line x1="129" y1="1030.2" x2="141" y2="1030.2"/><line x1="129" y1="808.9" x2="141" y2="808.9"/><line x1="129" y1="587.6" x2="141" y2="587.6"/><line x1="129" y1="366.3" x2="141" y2="366.3"/><line x1="129" y1="145" x2="141" y2="145"/><line x1="198" y1="1050" x2="198" y2="1062"/><line x1="283.9" y1="1050" x2="283.9" y2="1062"/><line x1="369.8" y1="1050" x2="369.8" y2="1062"/><line x1="455.7" y1="1050" x2="455.7" y2="1062"/><line x1="541.6" y1="1050" x2="541.6" y2="1062"/><line x1="627.5" y1="1050" x2="627.5" y2="1062"/><line x1="713.4" y1="1050" x2="713.4" y2="1062"/><line x1="799.3" y1="1050" x2="799.3" y2="1062"/><line x1="885.2" y1="1050" x2="885.2" y2="1062"/><line x1="971.1" y1="1050" x2="971.1" y2="1062"/><line x1="1057" y1="1050" x2="1057" y2="1062"/><line x1="1143" y1="1050" x2="1143" y2="1062"/><line x1="1228.9" y1="1050" x2="1228.9" y2="1062"/><line x1="1314.8" y1="1050" x2="1314.8" y2="1062"/><line x1="1400.7" y1="1050" x2="1400.7" y2="1062"/><line x1="1486.6" y1="1050" x2="1486.6" y2="1062"/><line x1="1572.5" y1="1050" x2="1572.5" y2="1062"/><line x1="1658.4" y1="1050" x2="1658.4" y2="1062"/><line x1="1744.3" y1="1050" x2="1744.3" y2="1062"/><line x1="1830.2" y1="1050" x2="1830.2" y2="1062"/><line x1="1916.1" y1="1050" x2="1916.1" y2="1062"/><line x1="2002" y1="1050" x2="2002" y2="1062"/></g><g font-size="37.5" fill="#4D4D4D"><text x="119.3" y="1044.6" text-anchor="end">0</text><text x="119.3" y="823.3" text-anchor="end">5</text><text x="119.3" y="602" text-anchor="end">10</text><text x="119.3" y="380.7" text-anchor="end">15</text><text x="119.3" y="159.4" text-anchor="end">20</text><text x="198" y="1099.8" text-anchor="middle">1</text><text x="283.9" y="1099.8" text-anchor="middle">2</text><text x="369.8" y="1099.8" text-anchor="middle">3</text><text x="455.7" y="1099.8" text-anchor="middle">4</text><text x="541.6" y="1099.8" text-anchor="middle">5</text><text x="627.5" y="1099.8" text-anchor="middle">6</text><text x="713.4" y="1099.8" text-anchor="middle">7</text><text x="799.3" y="1099.8" text-anchor="middle">8</text><text x="885.2" y="1099.8" text-anchor="middle">9</text><text x="971.1" y="1099.8" text-anchor="middle">10</text><text x="1057" y="1099.8" text-anchor="middle">11</text><text x="1143" y="1099.8" text-anchor="middle">12</text><text x="1228.9" y="1099.8" text-anchor="middle">13</text><text x="1314.8" y="1099.8" text-anchor="middle">14</text><text x="1400.7" y="1099.8" text-anchor="middle">15</text><text x="1486.6" y="1099.8" text-anchor="middle">16</text><text x="1572.5" y="1099.8" text-anchor="middle">17</text><text x="1658.4" y="1099.8" text-anchor="middle">18</text><text x="1744.3" y="1099.8" text-anchor="middle">19</text><text x="1830.2" y="1099.8" text-anchor="middle">20</text><text x="1916.1" y="1099.8" text-anchor="middle">21</text><text x="2002" y="1099.8" text-anchor="middle">22</text></g><text x="1099" y="1153" font-size="46.4" fill="#000" text-anchor="middle">Chromosome</text><g transform="translate(45.5 0) rotate(-90)" fill="#000"><text x="-625.9" y="4" font-size="46.4">−</text><text x="-593.6" y="0" font-size="46.4">log</text><text x="-531.8" y="9.5" font-size="33.5">10</text><text x="-495" y="0" font-size="53">(</text><text x="-477.5" y="0" font-size="46.4">p</text><text x="-449.75" y="0" font-size="53">)</text></g><g font-size="46.4" font-style="italic" fill="#000"><text x="226.5" y="207.2">AL592295.3</text><text x="267" y="343.4">GDF7</text><text x="648.5" y="318" text-anchor="middle">AGGF1P1</text><text x="648.5" y="361.8" text-anchor="middle">RARRES2P4</text><text x="1239" y="340.1">LINC00355</text></g></svg></body></html>
